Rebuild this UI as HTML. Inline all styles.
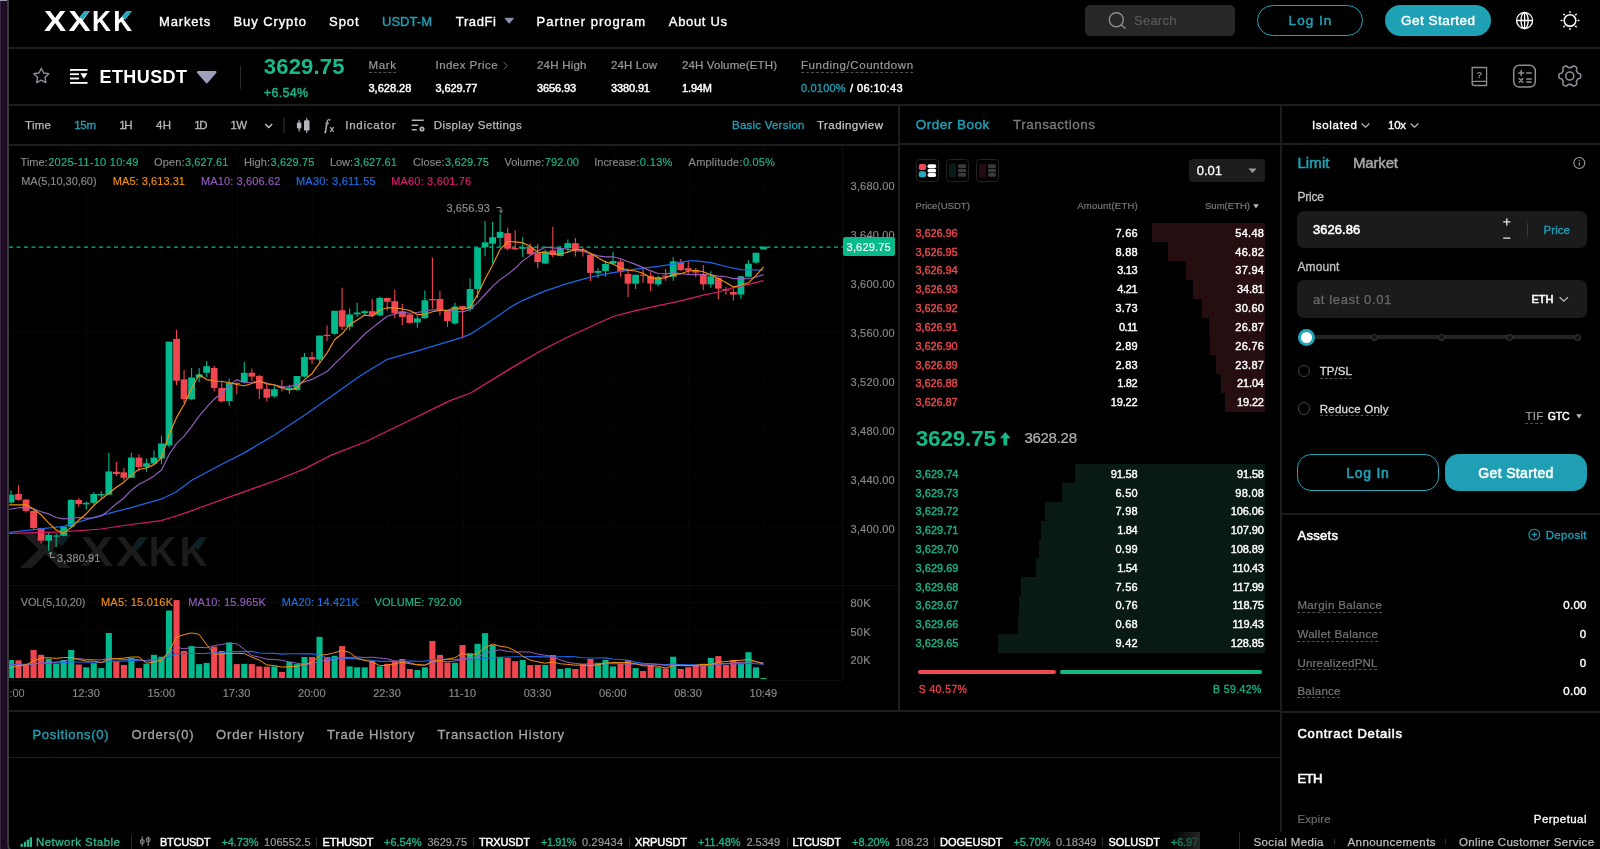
<!DOCTYPE html><html lang="en"><head><meta charset="utf-8"><title>ETHUSDT | XXKK</title><style>
*{margin:0;padding:0}
html,body{width:1600px;height:849px;overflow:hidden;background:#000}
body{position:relative;font-family:"Liberation Sans",sans-serif}
#app{position:absolute;left:0;top:0;width:1600px;height:849px;will-change:transform}
.t{position:absolute;white-space:pre;font-family:"Liberation Sans",sans-serif}
.t.b{font-weight:bold}
.ab,.ln{position:absolute}
.ab{display:block}
.strip{position:absolute;left:0;top:0;width:12px;height:849px;background:linear-gradient(90deg,#38243e 0,#38243e 1px,#1f0b25 1.5px,#1c0a21 12px)}
.strip:before{content:'';position:absolute;left:0;top:0;width:7px;height:1px;background:#9c9db3}
.edge{position:absolute;left:7.200px;top:-10px;width:60px;height:865px;border-left:2px solid #393939;border-bottom:2px solid #393939;border-bottom-left-radius:11px;background:#000;box-sizing:border-box}
.dash{position:absolute;height:0;border-top:1px dashed #505050}
.logo{position:absolute;font:bold 28.6px/34px "Liberation Sans",sans-serif;color:#fff;transform-origin:0 50%}
</style></head><body><div id="app"><div class="strip"></div><div class="edge"></div>
<div class="ln" style="left:9px;top:47px;width:1591px;height:2px;background:#1d1d1d"></div>
<div class="ln" style="left:9px;top:104px;width:1591px;height:2px;background:#1d1d1d"></div>
<div class="ln" style="left:9px;top:144px;width:889px;height:2px;background:#1d1d1d"></div>
<div class="ln" style="left:900px;top:143px;width:380px;height:2px;background:#1d1d1d"></div>
<div class="ln" style="left:1282px;top:143px;width:318px;height:2px;background:#1d1d1d"></div>
<div class="ln" style="left:898px;top:105px;width:2px;height:606px;background:#1d1d1d"></div>
<div class="ln" style="left:1280px;top:105px;width:2px;height:727px;background:#1d1d1d"></div>
<div class="ln" style="left:9px;top:710px;width:1271px;height:2px;background:#1d1d1d"></div>
<div class="ln" style="left:9px;top:757px;width:1271px;height:1px;background:#1d1d1d"></div>
<div class="ln" style="left:1282px;top:513px;width:318px;height:2px;background:#1d1d1d"></div>
<div class="ln" style="left:1282px;top:711px;width:318px;height:2px;background:#1d1d1d"></div>
<div class="ln" style="left:1239px;top:832px;width:1px;height:17px;background:#2a2a2a"></div>
<span class="logo" id="logoX" style="left:43.9px;top:4.2px;letter-spacing:1.9px;transform:scaleX(1.165)">XX</span><span class="logo" id="logoK" style="left:92.400px;top:4.2px;letter-spacing:2.5px;transform:scaleX(.915)">KK</span>
<svg class="ab" style="left:0;top:0" width="200" height="48"><polygon points="79.4,16.9 84.4,11 89.5,11 82.8,19.8" fill="#2aa7bb"/><polygon points="121.9,16.9 126.3,11 132.2,11 125.4,19.8" fill="#2aa7bb"/></svg>
<span class="t" id="t0" style="left:159.0px;top:15.0px;font-size:13px;line-height:13px;color:#fff;letter-spacing:0.83px;-webkit-text-stroke:0.35px #fff;">Markets</span>
<span class="t" id="t1" style="left:233.5px;top:15.0px;font-size:13px;line-height:13px;color:#fff;letter-spacing:0.91px;-webkit-text-stroke:0.35px #fff;">Buy Crypto</span>
<span class="t" id="t2" style="left:329.0px;top:15.0px;font-size:13px;line-height:13px;color:#fff;letter-spacing:0.98px;-webkit-text-stroke:0.35px #fff;">Spot</span>
<span class="t" id="t3" style="left:382.0px;top:15.0px;font-size:13px;line-height:13px;color:#1fa2b6;letter-spacing:0.03px;-webkit-text-stroke:0.35px #1fa2b6;">USDT-M</span>
<span class="t" id="t4" style="left:455.8px;top:15.0px;font-size:13px;line-height:13px;color:#fff;letter-spacing:0.62px;-webkit-text-stroke:0.35px #fff;">TradFi</span>
<svg class="ab" style="left:504px;top:17px" width="11" height="8"><path d="M1 1.3h8.4L5.2 6.3z" fill="#8f94b3" stroke="#8f94b3" stroke-width="1" stroke-linejoin="round"/></svg>
<span class="t" id="t5" style="left:536.5px;top:15.0px;font-size:13px;line-height:13px;color:#fff;letter-spacing:0.99px;-webkit-text-stroke:0.35px #fff;">Partner program</span>
<span class="t" id="t6" style="left:668.8px;top:15.0px;font-size:13px;line-height:13px;color:#fff;letter-spacing:0.67px;-webkit-text-stroke:0.35px #fff;">About Us</span>
<div class="ab" style="left:1084.5px;top:5px;width:150px;height:31px;background:#272727;border-radius:5px"></div>
<svg class="ab" style="left:1106px;top:10px" width="22" height="22" fill="none" stroke="#8b8b93" stroke-width="1.4"><circle cx="10.3" cy="9.8" r="7"/><path d="M15.4 14.9l3.6 3.4" stroke-linecap="round"/></svg>
<span class="t" id="t7" style="left:1134.0px;top:14.0px;font-size:13px;line-height:13px;color:#5a5a5a;letter-spacing:0.24px;-webkit-text-stroke:0.2px #5a5a5a;">Search</span>
<div class="ab" style="left:1257px;top:5px;width:106px;height:31px;border:1.5px solid #1fa2b6;border-radius:16px;box-sizing:border-box"></div>
<span class="t" id="t8" style="left:1288.6px;top:14.0px;font-size:13.5px;line-height:13.5px;color:#1fa2b6;letter-spacing:1.03px;-webkit-text-stroke:0.45px #1fa2b6;">Log In</span>
<div class="ab" style="left:1385px;top:5px;width:106px;height:31px;background:#1ea1b5;border-radius:16px"></div>
<span class="t" id="t9" style="left:1401.0px;top:14.0px;font-size:13.5px;line-height:13.5px;color:#fff;letter-spacing:0.49px;-webkit-text-stroke:0.45px #fff;">Get Started</span>
<svg class="ab" style="left:1514px;top:10px" width="22" height="22" fill="none" stroke="#fff" stroke-width="1.3"><circle cx="10.6" cy="10.5" r="8"/><ellipse cx="10.6" cy="10.5" rx="3.6" ry="8"/><path d="M10.6 2.5v16M2.600 10.500h16"/></svg>
<svg class="ab" style="left:1558px;top:8px" width="24" height="24" fill="none" stroke="#fff" stroke-width="1.5" stroke-linecap="round"><circle cx="12" cy="12.5" r="5.8"/><path d="M12 3.700v.7M12 20.600v.7M3.200 12.500h.7M20.100 12.500h.7M5.800 6.300l.5.5M17.700 18.200l.5.5M5.800 18.700l.5-.5M17.700 6.800l.5-.5"/></svg>
<svg class="ab" style="left:31px;top:65.300px" width="21" height="21" fill="none" stroke="#8b8e9b" stroke-width="1.400" stroke-linejoin="round"><path d="M10.3 3.2l2.3 4.8 5.2.7-3.8 3.7.9 5.2-4.6-2.5-4.6 2.5.9-5.2L2.8 8.700l5.2-.7z"/></svg>
<svg class="ab" style="left:69px;top:67px" width="20" height="20" fill="#fff"><rect x="1" y="2" width="17.5" height="1.8"/><rect x="1" y="6.3" width="9" height="1.8"/><rect x="1" y="10.6" width="9" height="1.8"/><rect x="1" y="15" width="17.5" height="1.8"/><path d="M11.3 6.3h7.2l-3.6 5.5z"/></svg>
<span class="t b" id="t10" style="left:99.5px;top:68.0px;font-size:18px;line-height:18px;color:#fff;letter-spacing:0.42px;">ETHUSDT</span>
<svg class="ab" style="left:194px;top:68px" width="26" height="18"><path d="M4.2 4.200h17l-8.5 9.800z" fill="#9da1bb" stroke="#9da1bb" stroke-width="2.6" stroke-linejoin="round"/></svg>
<div class="ln" style="left:240px;top:66px;width:1px;height:23px;background:#2a2a2a"></div>
<span class="t b" id="t11" style="left:263.8px;top:56.0px;font-size:22px;line-height:22px;color:#19b98b;letter-spacing:0.20px;">3629.75</span>
<span class="t" id="t12" style="left:263.8px;top:87.0px;font-size:12.5px;line-height:12.5px;color:#19b98b;letter-spacing:0.29px;-webkit-text-stroke:0.4px #19b98b;">+6.54%</span>
<span class="t" id="t13" style="left:368.5px;top:60.0px;font-size:11.5px;line-height:11.5px;color:#9a9a9a;letter-spacing:0.65px;-webkit-text-stroke:0.2px #9a9a9a;">Mark</span>
<div class="dash" style="left:368.5px;top:72px;width:27.5px"></div>
<span class="t" id="t14" style="left:368.5px;top:83.0px;font-size:11px;line-height:11px;color:#fff;letter-spacing:-0.00px;-webkit-text-stroke:0.45px #fff;">3,628.28</span>
<span class="t" id="t15" style="left:435.5px;top:60.0px;font-size:11.5px;line-height:11.5px;color:#9a9a9a;letter-spacing:0.45px;-webkit-text-stroke:0.2px #9a9a9a;">Index Price</span>
<svg class="ab" style="left:501px;top:60px" width="10" height="12" fill="none" stroke="#707070" stroke-width="1"><path d="M2.800 2.300l3.500 3.500-3.500 3.500"/></svg>
<span class="t" id="t16" style="left:435.5px;top:83.0px;font-size:11px;line-height:11px;color:#fff;letter-spacing:-0.12px;-webkit-text-stroke:0.45px #fff;">3,629.77</span>
<span class="t" id="t17" style="left:537.0px;top:60.0px;font-size:11.5px;line-height:11.5px;color:#9a9a9a;letter-spacing:0.22px;-webkit-text-stroke:0.2px #9a9a9a;">24H High</span>
<span class="t" id="t18" style="left:537.0px;top:83.0px;font-size:11px;line-height:11px;color:#fff;letter-spacing:-0.09px;-webkit-text-stroke:0.45px #fff;">3656.93</span>
<span class="t" id="t19" style="left:611.0px;top:60.0px;font-size:11.5px;line-height:11.5px;color:#9a9a9a;letter-spacing:0.10px;-webkit-text-stroke:0.2px #9a9a9a;">24H Low</span>
<span class="t" id="t20" style="left:611.0px;top:83.0px;font-size:11px;line-height:11px;color:#fff;letter-spacing:-0.13px;-webkit-text-stroke:0.45px #fff;">3380.91</span>
<span class="t" id="t21" style="left:682.0px;top:60.0px;font-size:11.5px;line-height:11.5px;color:#9a9a9a;letter-spacing:0.12px;-webkit-text-stroke:0.2px #9a9a9a;">24H Volume(ETH)</span>
<span class="t" id="t22" style="left:682.0px;top:83.0px;font-size:11px;line-height:11px;color:#fff;letter-spacing:-0.14px;-webkit-text-stroke:0.45px #fff;">1.94M</span>
<span class="t" id="t23" style="left:801.0px;top:60.0px;font-size:11.5px;line-height:11.5px;color:#9a9a9a;letter-spacing:0.57px;-webkit-text-stroke:0.2px #9a9a9a;">Funding/Countdown</span>
<div class="dash" style="left:801px;top:72px;width:112px"></div>
<span class="t" id="t24" style="left:801.0px;top:83.0px;font-size:11px;line-height:11px;color:#1fa2b6;letter-spacing:0.18px;-webkit-text-stroke:0.3px #1fa2b6;">0.0100%</span>
<span class="t" id="t25" style="left:850.0px;top:83.0px;font-size:11px;line-height:11px;color:#fff;letter-spacing:0.40px;-webkit-text-stroke:0.45px #fff;">/ 06:10:43</span>
<svg class="ab" style="left:1469px;top:64px" width="22" height="24" fill="none" stroke="#8d8d96" stroke-width="1.3"><path d="M3.2 3.5h14.4v18H5.2a2 2 0 0 1-2-2z"/><path d="M3.2 19.2a2 2 0 0 1 2-1.900h12.400"/><text x="10.400" y="13.800" font-size="9.500" fill="#8d8d96" stroke="none" text-anchor="middle" font-family="Liberation Sans, sans-serif" font-weight="bold">?</text></svg>
<svg class="ab" style="left:1511px;top:63px" width="27" height="27" fill="none" stroke="#8d8d96" stroke-width="1.5" stroke-linecap="round"><rect x="2.700" y="2.300" width="21.6" height="21.800" rx="5.500"/><path d="M7.700 9.900h5M10.200 7.400v5M15.800 9.900h4.400M8.200 15.500l3.700 3.700M11.900 15.500l-3.700 3.700M15.800 15.900h4.400M15.800 18.900h4.400"/></svg>
<svg class="ab" style="left:1556px;top:62px" width="28" height="28" fill="none" stroke="#8d8d96" stroke-width="1.600" stroke-linejoin="round"><path d="M24.70 14.00L24.69 14.48L24.64 14.95L24.55 15.41L24.35 15.86L23.91 16.24L23.12 16.50L22.33 16.69L21.87 16.94L21.62 17.24L21.43 17.56L21.25 17.88L21.07 18.20L20.89 18.52L20.70 18.83L20.51 19.15L20.38 19.52L20.40 20.05L20.62 20.82L20.79 21.63L20.68 22.20L20.40 22.60L20.04 22.91L19.65 23.19L19.25 23.44L18.83 23.67L18.40 23.86L17.95 24.01L17.46 24.06L16.91 23.87L16.30 23.32L15.74 22.74L15.29 22.46L14.90 22.39L14.53 22.39L14.17 22.40L13.80 22.40L13.43 22.40L13.07 22.39L12.70 22.39L12.31 22.46L11.86 22.74L11.30 23.32L10.69 23.87L10.14 24.06L9.65 24.01L9.20 23.86L8.77 23.67L8.35 23.44L7.95 23.19L7.56 22.91L7.20 22.60L6.92 22.20L6.81 21.63L6.98 20.82L7.20 20.05L7.22 19.52L7.09 19.15L6.90 18.83L6.71 18.52L6.53 18.20L6.35 17.88L6.17 17.56L5.98 17.24L5.73 16.94L5.27 16.69L4.48 16.50L3.69 16.24L3.25 15.86L3.05 15.41L2.96 14.95L2.91 14.48L2.90 14.00L2.91 13.52L2.96 13.05L3.05 12.59L3.25 12.14L3.69 11.76L4.48 11.50L5.27 11.31L5.73 11.06L5.98 10.76L6.17 10.44L6.35 10.12L6.53 9.80L6.71 9.48L6.90 9.17L7.09 8.85L7.22 8.48L7.20 7.95L6.98 7.18L6.81 6.37L6.92 5.80L7.20 5.40L7.56 5.09L7.95 4.81L8.35 4.56L8.77 4.33L9.20 4.14L9.65 3.99L10.14 3.94L10.69 4.13L11.30 4.68L11.86 5.26L12.31 5.54L12.70 5.61L13.07 5.61L13.43 5.60L13.80 5.60L14.17 5.60L14.53 5.61L14.90 5.61L15.29 5.54L15.74 5.26L16.30 4.68L16.91 4.13L17.46 3.94L17.95 3.99L18.40 4.14L18.83 4.33L19.25 4.56L19.65 4.81L20.04 5.09L20.40 5.40L20.68 5.80L20.79 6.37L20.62 7.18L20.40 7.95L20.38 8.48L20.51 8.85L20.70 9.17L20.89 9.48L21.07 9.80L21.25 10.12L21.43 10.44L21.62 10.76L21.87 11.06L22.33 11.31L23.12 11.50L23.91 11.76L24.35 12.14L24.55 12.59L24.64 13.05L24.69 13.52Z"/><circle cx="13.8" cy="14" r="4"/></svg>
<span class="t" id="t26" style="left:25.0px;top:120.0px;font-size:11.5px;line-height:11.5px;color:#b9b9b9;letter-spacing:0.29px;-webkit-text-stroke:0.25px #b9b9b9;">Time</span>
<span class="t" id="t27" style="left:74.3px;top:120.0px;font-size:11.5px;line-height:11.5px;color:#1fa2b6;letter-spacing:-0.34px;-webkit-text-stroke:0.35px #1fa2b6;">15m</span>
<span class="t" id="t28" style="left:119.3px;top:120.0px;font-size:11.5px;line-height:11.5px;color:#b9b9b9;letter-spacing:-1.50px;-webkit-text-stroke:0.3px #b9b9b9;">1H</span>
<span class="t" id="t29" style="left:156.0px;top:120.0px;font-size:11.5px;line-height:11.5px;color:#b9b9b9;letter-spacing:0.30px;-webkit-text-stroke:0.3px #b9b9b9;">4H</span>
<span class="t" id="t30" style="left:194.3px;top:120.0px;font-size:11.5px;line-height:11.5px;color:#b9b9b9;letter-spacing:-1.50px;-webkit-text-stroke:0.3px #b9b9b9;">1D</span>
<span class="t" id="t31" style="left:230.5px;top:120.0px;font-size:11.5px;line-height:11.5px;color:#b9b9b9;letter-spacing:-0.75px;-webkit-text-stroke:0.3px #b9b9b9;">1W</span>
<svg class="ab" style="left:263px;top:121px" width="12" height="10" fill="none" stroke="#c8c8c8" stroke-width="1.3"><path d="M2.200 3l3.500 3.500L9.200 3"/></svg>
<div class="ln" style="left:282.8px;top:118px;width:2px;height:15px;background:#1b1b1b"></div>
<svg class="ab" style="left:296px;top:117px" width="16" height="17" fill="#b5b5bd"><rect x="2.600" y="2.800" width="1.100" height="11.800"/><rect x=".900" y="5.500" width="4.500" height="6" rx="1"/><rect x="10.200" y="1" width="1.100" height="15"/><rect x="8" y="3.200" width="5.500" height="10.400" rx="1.200"/></svg>
<svg class="ab" style="left:322px;top:116px" width="16" height="20"><text x="2.500" y="14" font-family="Liberation Serif, serif" font-style="italic" font-size="14.500" fill="#b5b5bd" stroke="#b5b5bd" stroke-width=".300">f</text><text x="7.500" y="16" font-family="Liberation Sans, sans-serif" font-weight="bold" font-size="8.500" fill="#b5b5bd">x</text></svg>
<span class="t" id="t32" style="left:345.2px;top:120.0px;font-size:11.5px;line-height:11.5px;color:#b9b9b9;letter-spacing:0.77px;-webkit-text-stroke:0.25px #b9b9b9;">Indicator</span>
<svg class="ab" style="left:410px;top:117px" width="17" height="17" fill="none" stroke="#b0b0b8" stroke-width="1.400"><path d="M1.700 3.200h12M1.700 8.200h6.500M1.700 12.800h5"/><circle cx="12" cy="12" r="1.700" stroke-width="1.700"/></svg>
<span class="t" id="t33" style="left:433.8px;top:120.0px;font-size:11.5px;line-height:11.5px;color:#b9b9b9;letter-spacing:0.37px;-webkit-text-stroke:0.25px #b9b9b9;">Display Settings</span>
<span class="t" id="t34" style="left:732.0px;top:120.0px;font-size:11.5px;line-height:11.5px;color:#1fa2b6;letter-spacing:0.23px;-webkit-text-stroke:0.3px #1fa2b6;">Basic Version</span>
<span class="t" id="t35" style="left:817.0px;top:120.0px;font-size:11.5px;line-height:11.5px;color:#c5c5c5;letter-spacing:0.44px;-webkit-text-stroke:0.25px #c5c5c5;">Tradingview</span>
<svg class="ab" style="left:0;top:0" width="900" height="712" viewBox="0 0 900 712"><defs><clipPath id="cc"><rect x="9.200" y="146" width="889" height="565"/></clipPath></defs><g clip-path="url(#cc)"><path d="M9 185.4H842.500" stroke="#070707" stroke-width="1"/><path d="M9 234.3H842.500" stroke="#070707" stroke-width="1"/><path d="M9 283.2H842.500" stroke="#070707" stroke-width="1"/><path d="M9 332.1H842.500" stroke="#070707" stroke-width="1"/><path d="M9 381.0H842.500" stroke="#070707" stroke-width="1"/><path d="M9 429.8H842.500" stroke="#070707" stroke-width="1"/><path d="M9 478.7H842.500" stroke="#070707" stroke-width="1"/><path d="M9 527.6H842.500" stroke="#070707" stroke-width="1"/><path d="M9 602.5H842.500" stroke="#070707" stroke-width="1"/><path d="M9 630.8H842.500" stroke="#070707" stroke-width="1"/><path d="M9 659.3H842.500" stroke="#070707" stroke-width="1"/><path d="M86.9 146V680.500" stroke="#070707" stroke-width="1"/><path d="M162.2 146V680.500" stroke="#070707" stroke-width="1"/><path d="M237.4 146V680.500" stroke="#070707" stroke-width="1"/><path d="M312.7 146V680.500" stroke="#070707" stroke-width="1"/><path d="M387.9 146V680.500" stroke="#070707" stroke-width="1"/><path d="M463.2 146V680.500" stroke="#070707" stroke-width="1"/><path d="M538.4 146V680.500" stroke="#070707" stroke-width="1"/><path d="M613.7 146V680.500" stroke="#070707" stroke-width="1"/><path d="M688.9 146V680.500" stroke="#070707" stroke-width="1"/><path d="M764.2 146V680.500" stroke="#070707" stroke-width="1"/><path d="M9 585.500H898M9 680.500H842.500M842.500 146V680.500" stroke="#0c0c0c" stroke-width="1" fill="none"/><g font-family="Liberation Sans, sans-serif" font-weight="bold" fill="#1c1c1c"><text transform="translate(19.300,568.300) scale(1.590,1)" font-size="49.400">X</text><text transform="translate(80.800,565.900) scale(1.165,1)" font-size="41.800" letter-spacing="1.900">XX</text><text transform="translate(148.700,565.900) scale(.915,1)" font-size="41.800" letter-spacing="3.650">KK</text></g><polygon points="133,545.700 140.300,537.100 147.600,537.100 138,550" fill="#0d2124"/><polygon points="193.500,545.700 200.200,537.100 206.800,537.100 198.500,550" fill="#0d2124"/><polygon points="56.500,541.500 64,534.400 71.500,534.400 61.500,546.500" fill="#0d2124"/><path d="M9 247.200H843" stroke="#00b98c" stroke-width="1.300" stroke-dasharray="4 3.500" /><path d="M11.00 490.2V503.8" stroke="#00b98c" stroke-width="1.100"/><rect x="7.60" y="494.7" width="6.8" height="7.8" fill="#00b98c"/><path d="M18.52 485.2V500.8" stroke="#f0464f" stroke-width="1.100"/><rect x="15.12" y="494.0" width="6.8" height="5.9" fill="#f0464f"/><path d="M26.05 499.0V512.4" stroke="#f0464f" stroke-width="1.100"/><rect x="22.65" y="499.6" width="6.8" height="11.3" fill="#f0464f"/><path d="M33.58 509.8V530.0" stroke="#f0464f" stroke-width="1.100"/><rect x="30.18" y="510.9" width="6.8" height="17.1" fill="#f0464f"/><path d="M41.10 527.7V543.3" stroke="#f0464f" stroke-width="1.100"/><rect x="37.70" y="528.0" width="6.8" height="12.7" fill="#f0464f"/><path d="M48.62 532.9V550.8" stroke="#00b98c" stroke-width="1.100"/><rect x="45.23" y="534.8" width="6.8" height="5.9" fill="#00b98c"/><path d="M56.15 533.5V546.9" stroke="#00b98c" stroke-width="1.100"/><rect x="52.75" y="535.5" width="6.8" height="1.1" fill="#00b98c"/><path d="M63.68 526.4V536.1" stroke="#00b98c" stroke-width="1.100"/><rect x="60.28" y="526.7" width="6.8" height="9.1" fill="#00b98c"/><path d="M71.20 499.6V527.0" stroke="#00b98c" stroke-width="1.100"/><rect x="67.80" y="499.9" width="6.8" height="26.8" fill="#00b98c"/><path d="M78.73 497.9V506.7" stroke="#f0464f" stroke-width="1.100"/><rect x="75.33" y="499.9" width="6.8" height="4.2" fill="#f0464f"/><path d="M86.25 501.6V509.8" stroke="#00b98c" stroke-width="1.100"/><rect x="82.85" y="502.8" width="6.8" height="1.6" fill="#00b98c"/><path d="M93.78 492.1V504.4" stroke="#00b98c" stroke-width="1.100"/><rect x="90.38" y="494.0" width="6.8" height="8.8" fill="#00b98c"/><path d="M101.30 491.2V498.2" stroke="#00b98c" stroke-width="1.100"/><rect x="97.90" y="494.0" width="6.8" height="1.3" fill="#00b98c"/><path d="M108.83 452.8V494.7" stroke="#00b98c" stroke-width="1.100"/><rect x="105.42" y="471.4" width="6.8" height="23.3" fill="#00b98c"/><path d="M116.35 461.9V475.9" stroke="#f0464f" stroke-width="1.100"/><rect x="112.95" y="471.8" width="6.8" height="2.2" fill="#f0464f"/><path d="M123.88 468.1V480.8" stroke="#f0464f" stroke-width="1.100"/><rect x="120.47" y="472.3" width="6.8" height="5.5" fill="#f0464f"/><path d="M131.40 452.8V477.8" stroke="#00b98c" stroke-width="1.100"/><rect x="128.00" y="457.5" width="6.8" height="20.3" fill="#00b98c"/><path d="M138.93 454.2V470.8" stroke="#f0464f" stroke-width="1.100"/><rect x="135.53" y="457.6" width="6.8" height="9.4" fill="#f0464f"/><path d="M146.45 458.5V471.7" stroke="#00b98c" stroke-width="1.100"/><rect x="143.05" y="463.3" width="6.8" height="3.4" fill="#00b98c"/><path d="M153.97 450.6V464.8" stroke="#00b98c" stroke-width="1.100"/><rect x="150.57" y="457.6" width="6.8" height="6.0" fill="#00b98c"/><path d="M161.50 435.4V464.2" stroke="#00b98c" stroke-width="1.100"/><rect x="158.10" y="443.5" width="6.8" height="15.0" fill="#00b98c"/><path d="M169.03 341.7V447.2" stroke="#00b98c" stroke-width="1.100"/><rect x="165.62" y="341.7" width="6.8" height="103.7" fill="#00b98c"/><path d="M176.55 329.8V385.0" stroke="#f0464f" stroke-width="1.100"/><rect x="173.15" y="338.9" width="6.8" height="41.8" fill="#f0464f"/><path d="M184.08 370.0V403.0" stroke="#f0464f" stroke-width="1.100"/><rect x="180.68" y="379.4" width="6.8" height="19.8" fill="#f0464f"/><path d="M191.60 368.0V400.0" stroke="#00b98c" stroke-width="1.100"/><rect x="188.20" y="377.5" width="6.8" height="21.7" fill="#00b98c"/><path d="M199.12 368.0V382.2" stroke="#00b98c" stroke-width="1.100"/><rect x="195.72" y="374.3" width="6.8" height="3.2" fill="#00b98c"/><path d="M206.65 361.1V377.5" stroke="#00b98c" stroke-width="1.100"/><rect x="203.25" y="366.2" width="6.8" height="6.6" fill="#00b98c"/><path d="M214.18 365.8V391.6" stroke="#f0464f" stroke-width="1.100"/><rect x="210.78" y="368.0" width="6.8" height="19.9" fill="#f0464f"/><path d="M221.70 382.2V402.6" stroke="#f0464f" stroke-width="1.100"/><rect x="218.30" y="387.9" width="6.8" height="13.5" fill="#f0464f"/><path d="M229.23 378.4V405.8" stroke="#00b98c" stroke-width="1.100"/><rect x="225.83" y="382.8" width="6.8" height="18.2" fill="#00b98c"/><path d="M236.75 382.2V393.9" stroke="#f0464f" stroke-width="1.100"/><rect x="233.35" y="383.1" width="6.8" height="1.1" fill="#f0464f"/><path d="M244.28 362.0V382.6" stroke="#00b98c" stroke-width="1.100"/><rect x="240.88" y="372.8" width="6.8" height="9.4" fill="#00b98c"/><path d="M251.80 368.6V380.7" stroke="#f0464f" stroke-width="1.100"/><rect x="248.40" y="372.8" width="6.8" height="3.8" fill="#f0464f"/><path d="M259.33 375.0V398.8" stroke="#f0464f" stroke-width="1.100"/><rect x="255.93" y="376.0" width="6.8" height="12.8" fill="#f0464f"/><path d="M266.85 382.2V401.4" stroke="#f0464f" stroke-width="1.100"/><rect x="263.45" y="388.8" width="6.8" height="8.9" fill="#f0464f"/><path d="M274.38 386.0V397.7" stroke="#00b98c" stroke-width="1.100"/><rect x="270.98" y="389.2" width="6.8" height="7.1" fill="#00b98c"/><path d="M281.90 380.0V391.6" stroke="#f0464f" stroke-width="1.100"/><rect x="278.50" y="386.9" width="6.8" height="1.1" fill="#f0464f"/><path d="M289.43 385.0V393.9" stroke="#00b98c" stroke-width="1.100"/><rect x="286.03" y="387.9" width="6.8" height="1.5" fill="#00b98c"/><path d="M296.95 376.0V390.7" stroke="#00b98c" stroke-width="1.100"/><rect x="293.55" y="376.0" width="6.8" height="14.1" fill="#00b98c"/><path d="M304.48 353.0V377.5" stroke="#00b98c" stroke-width="1.100"/><rect x="301.08" y="357.1" width="6.8" height="19.5" fill="#00b98c"/><path d="M312.00 352.0V364.3" stroke="#f0464f" stroke-width="1.100"/><rect x="308.60" y="357.1" width="6.8" height="2.5" fill="#f0464f"/><path d="M319.53 335.6V362.4" stroke="#00b98c" stroke-width="1.100"/><rect x="316.13" y="335.6" width="6.8" height="24.0" fill="#00b98c"/><path d="M327.05 325.4V341.0" stroke="#f0464f" stroke-width="1.100"/><rect x="323.65" y="334.8" width="6.8" height="1.3" fill="#f0464f"/><path d="M334.57 310.8V334.8" stroke="#00b98c" stroke-width="1.100"/><rect x="331.18" y="310.8" width="6.8" height="23.0" fill="#00b98c"/><path d="M342.10 287.7V330.0" stroke="#f0464f" stroke-width="1.100"/><rect x="338.70" y="310.3" width="6.8" height="16.4" fill="#f0464f"/><path d="M349.62 308.4V330.6" stroke="#00b98c" stroke-width="1.100"/><rect x="346.23" y="314.4" width="6.8" height="12.3" fill="#00b98c"/><path d="M357.15 302.7V316.9" stroke="#00b98c" stroke-width="1.100"/><rect x="353.75" y="312.5" width="6.8" height="1.9" fill="#00b98c"/><path d="M364.68 309.9V315.0" stroke="#00b98c" stroke-width="1.100"/><rect x="361.28" y="311.2" width="6.8" height="1.9" fill="#00b98c"/><path d="M372.20 299.0V316.9" stroke="#f0464f" stroke-width="1.100"/><rect x="368.80" y="311.2" width="6.8" height="4.2" fill="#f0464f"/><path d="M379.73 296.5V315.9" stroke="#00b98c" stroke-width="1.100"/><rect x="376.33" y="298.0" width="6.8" height="17.4" fill="#00b98c"/><path d="M387.25 298.0V310.8" stroke="#f0464f" stroke-width="1.100"/><rect x="383.85" y="298.0" width="6.8" height="3.8" fill="#f0464f"/><path d="M394.78 289.5V318.2" stroke="#f0464f" stroke-width="1.100"/><rect x="391.38" y="301.2" width="6.8" height="11.9" fill="#f0464f"/><path d="M402.30 303.7V325.0" stroke="#f0464f" stroke-width="1.100"/><rect x="398.90" y="311.2" width="6.8" height="5.7" fill="#f0464f"/><path d="M409.83 314.0V323.8" stroke="#f0464f" stroke-width="1.100"/><rect x="406.43" y="314.4" width="6.8" height="8.5" fill="#f0464f"/><path d="M417.35 315.4V327.8" stroke="#00b98c" stroke-width="1.100"/><rect x="413.95" y="318.4" width="6.8" height="4.1" fill="#00b98c"/><path d="M424.88 290.5V318.8" stroke="#00b98c" stroke-width="1.100"/><rect x="421.48" y="300.3" width="6.8" height="17.9" fill="#00b98c"/><path d="M432.40 257.5V308.4" stroke="#f0464f" stroke-width="1.100"/><rect x="429.00" y="299.0" width="6.8" height="1.3" fill="#f0464f"/><path d="M439.93 290.9V315.4" stroke="#f0464f" stroke-width="1.100"/><rect x="436.53" y="299.0" width="6.8" height="11.8" fill="#f0464f"/><path d="M447.45 310.3V326.7" stroke="#f0464f" stroke-width="1.100"/><rect x="444.05" y="310.8" width="6.8" height="10.2" fill="#f0464f"/><path d="M454.98 302.7V324.4" stroke="#00b98c" stroke-width="1.100"/><rect x="451.58" y="306.5" width="6.8" height="17.0" fill="#00b98c"/><path d="M462.50 306.1V338.5" stroke="#f0464f" stroke-width="1.100"/><rect x="459.10" y="306.1" width="6.8" height="2.9" fill="#f0464f"/><path d="M470.03 278.2V311.6" stroke="#00b98c" stroke-width="1.100"/><rect x="466.63" y="289.0" width="6.8" height="20.0" fill="#00b98c"/><path d="M477.55 247.5V298.0" stroke="#00b98c" stroke-width="1.100"/><rect x="474.15" y="247.5" width="6.8" height="41.5" fill="#00b98c"/><path d="M485.08 221.1V256.3" stroke="#00b98c" stroke-width="1.100"/><rect x="481.68" y="242.4" width="6.8" height="4.7" fill="#00b98c"/><path d="M492.60 222.0V263.6" stroke="#00b98c" stroke-width="1.100"/><rect x="489.20" y="237.2" width="6.8" height="6.5" fill="#00b98c"/><path d="M500.12 214.0V247.3" stroke="#00b98c" stroke-width="1.100"/><rect x="496.73" y="231.9" width="6.8" height="6.0" fill="#00b98c"/><path d="M507.65 227.8V250.6" stroke="#f0464f" stroke-width="1.100"/><rect x="504.25" y="233.2" width="6.8" height="15.5" fill="#f0464f"/><path d="M515.17 230.2V250.0" stroke="#f0464f" stroke-width="1.100"/><rect x="511.77" y="248.1" width="6.8" height="1.3" fill="#f0464f"/><path d="M522.70 237.1V256.9" stroke="#00b98c" stroke-width="1.100"/><rect x="519.30" y="247.1" width="6.8" height="1.7" fill="#00b98c"/><path d="M530.23 243.7V255.0" stroke="#f0464f" stroke-width="1.100"/><rect x="526.83" y="247.1" width="6.8" height="7.0" fill="#f0464f"/><path d="M537.75 243.7V268.2" stroke="#f0464f" stroke-width="1.100"/><rect x="534.35" y="253.1" width="6.8" height="8.9" fill="#f0464f"/><path d="M545.27 249.4V263.9" stroke="#00b98c" stroke-width="1.100"/><rect x="541.88" y="251.3" width="6.8" height="12.2" fill="#00b98c"/><path d="M552.80 226.8V256.9" stroke="#f0464f" stroke-width="1.100"/><rect x="549.40" y="250.3" width="6.8" height="4.7" fill="#f0464f"/><path d="M560.33 246.0V256.4" stroke="#00b98c" stroke-width="1.100"/><rect x="556.93" y="248.4" width="6.8" height="7.6" fill="#00b98c"/><path d="M567.85 239.6V253.1" stroke="#00b98c" stroke-width="1.100"/><rect x="564.45" y="243.2" width="6.8" height="4.9" fill="#00b98c"/><path d="M575.38 238.1V256.4" stroke="#f0464f" stroke-width="1.100"/><rect x="571.98" y="243.2" width="6.8" height="7.1" fill="#f0464f"/><path d="M582.90 247.5V256.4" stroke="#f0464f" stroke-width="1.100"/><rect x="579.50" y="250.3" width="6.8" height="1.1" fill="#f0464f"/><path d="M590.43 254.1V280.9" stroke="#f0464f" stroke-width="1.100"/><rect x="587.03" y="254.7" width="6.8" height="18.2" fill="#f0464f"/><path d="M597.95 268.2V278.0" stroke="#00b98c" stroke-width="1.100"/><rect x="594.55" y="271.0" width="6.8" height="1.9" fill="#00b98c"/><path d="M605.48 260.7V276.7" stroke="#00b98c" stroke-width="1.100"/><rect x="602.08" y="263.9" width="6.8" height="7.1" fill="#00b98c"/><path d="M613.00 251.8V264.5" stroke="#00b98c" stroke-width="1.100"/><rect x="609.60" y="261.0" width="6.8" height="2.5" fill="#00b98c"/><path d="M620.52 259.4V276.7" stroke="#f0464f" stroke-width="1.100"/><rect x="617.12" y="261.6" width="6.8" height="9.8" fill="#f0464f"/><path d="M628.05 268.2V296.9" stroke="#f0464f" stroke-width="1.100"/><rect x="624.65" y="273.9" width="6.8" height="9.8" fill="#f0464f"/><path d="M635.58 274.8V289.0" stroke="#00b98c" stroke-width="1.100"/><rect x="632.18" y="274.8" width="6.8" height="8.9" fill="#00b98c"/><path d="M643.10 268.5V282.8" stroke="#f0464f" stroke-width="1.100"/><rect x="639.70" y="274.6" width="6.8" height="1.2" fill="#f0464f"/><path d="M650.62 272.3V290.9" stroke="#f0464f" stroke-width="1.100"/><rect x="647.23" y="275.8" width="6.8" height="7.8" fill="#f0464f"/><path d="M658.15 275.4V286.2" stroke="#00b98c" stroke-width="1.100"/><rect x="654.75" y="277.0" width="6.8" height="7.3" fill="#00b98c"/><path d="M665.68 269.0V280.8" stroke="#f0464f" stroke-width="1.100"/><rect x="662.28" y="275.6" width="6.8" height="1.2" fill="#f0464f"/><path d="M673.20 257.0V280.8" stroke="#00b98c" stroke-width="1.100"/><rect x="669.80" y="261.3" width="6.8" height="15.5" fill="#00b98c"/><path d="M680.73 259.0V270.7" stroke="#f0464f" stroke-width="1.100"/><rect x="677.33" y="261.8" width="6.8" height="8.3" fill="#f0464f"/><path d="M688.25 261.3V275.0" stroke="#f0464f" stroke-width="1.100"/><rect x="684.85" y="268.2" width="6.8" height="2.5" fill="#f0464f"/><path d="M695.77 267.9V277.3" stroke="#f0464f" stroke-width="1.100"/><rect x="692.38" y="270.3" width="6.8" height="2.3" fill="#f0464f"/><path d="M703.30 265.0V290.1" stroke="#f0464f" stroke-width="1.100"/><rect x="699.90" y="273.9" width="6.8" height="10.4" fill="#f0464f"/><path d="M710.83 271.3V287.7" stroke="#00b98c" stroke-width="1.100"/><rect x="707.43" y="276.3" width="6.8" height="8.1" fill="#00b98c"/><path d="M718.35 277.8V299.3" stroke="#f0464f" stroke-width="1.100"/><rect x="714.95" y="278.2" width="6.8" height="10.4" fill="#f0464f"/><path d="M725.88 287.1V294.8" stroke="#f0464f" stroke-width="1.100"/><rect x="722.48" y="289.0" width="6.8" height="1.5" fill="#f0464f"/><path d="M733.40 288.6V300.5" stroke="#f0464f" stroke-width="1.100"/><rect x="730.00" y="292.0" width="6.8" height="2.6" fill="#f0464f"/><path d="M740.93 275.4V299.0" stroke="#00b98c" stroke-width="1.100"/><rect x="737.53" y="276.3" width="6.8" height="18.3" fill="#00b98c"/><path d="M748.45 260.3V276.9" stroke="#00b98c" stroke-width="1.100"/><rect x="745.05" y="263.7" width="6.8" height="13.0" fill="#00b98c"/><path d="M755.98 252.8V263.7" stroke="#00b98c" stroke-width="1.100"/><rect x="752.58" y="252.8" width="6.8" height="9.8" fill="#00b98c"/><path d="M763.50 246.7V249.4" stroke="#00b98c" stroke-width="1.100"/><rect x="760.10" y="246.7" width="6.8" height="2.7" fill="#00b98c"/><rect x="7.95" y="660.0" width="6.1" height="18.0" fill="#00b98c"/><rect x="15.47" y="660.3" width="6.1" height="17.7" fill="#f0464f"/><rect x="23.00" y="664.5" width="6.1" height="13.5" fill="#f0464f"/><rect x="30.53" y="650.0" width="6.1" height="28.0" fill="#f0464f"/><rect x="38.05" y="654.8" width="6.1" height="23.2" fill="#f0464f"/><rect x="45.58" y="658.7" width="6.1" height="19.3" fill="#00b98c"/><rect x="53.10" y="663.8" width="6.1" height="14.2" fill="#00b98c"/><rect x="60.63" y="660.0" width="6.1" height="18.0" fill="#00b98c"/><rect x="68.15" y="650.0" width="6.1" height="28.0" fill="#00b98c"/><rect x="75.68" y="664.5" width="6.1" height="13.5" fill="#f0464f"/><rect x="83.20" y="667.3" width="6.1" height="10.7" fill="#00b98c"/><rect x="90.73" y="663.2" width="6.1" height="14.8" fill="#00b98c"/><rect x="98.25" y="668.1" width="6.1" height="9.9" fill="#00b98c"/><rect x="105.78" y="633.0" width="6.1" height="45.0" fill="#00b98c"/><rect x="113.30" y="661.2" width="6.1" height="16.8" fill="#f0464f"/><rect x="120.83" y="664.9" width="6.1" height="13.1" fill="#f0464f"/><rect x="128.35" y="658.0" width="6.1" height="20.0" fill="#00b98c"/><rect x="135.88" y="668.1" width="6.1" height="9.9" fill="#f0464f"/><rect x="143.40" y="663.8" width="6.1" height="14.2" fill="#00b98c"/><rect x="150.92" y="654.8" width="6.1" height="23.2" fill="#00b98c"/><rect x="158.45" y="656.7" width="6.1" height="21.3" fill="#00b98c"/><rect x="165.97" y="610.5" width="6.1" height="67.5" fill="#00b98c"/><rect x="173.50" y="600.1" width="6.1" height="77.9" fill="#f0464f"/><rect x="181.03" y="650.9" width="6.1" height="27.1" fill="#f0464f"/><rect x="188.55" y="646.1" width="6.1" height="31.9" fill="#00b98c"/><rect x="196.07" y="664.1" width="6.1" height="13.9" fill="#00b98c"/><rect x="203.60" y="662.9" width="6.1" height="15.1" fill="#00b98c"/><rect x="211.12" y="646.6" width="6.1" height="31.4" fill="#f0464f"/><rect x="218.65" y="650.9" width="6.1" height="27.1" fill="#f0464f"/><rect x="226.18" y="642.5" width="6.1" height="35.5" fill="#00b98c"/><rect x="233.70" y="664.1" width="6.1" height="13.9" fill="#f0464f"/><rect x="241.22" y="663.8" width="6.1" height="14.2" fill="#00b98c"/><rect x="248.75" y="664.1" width="6.1" height="13.9" fill="#f0464f"/><rect x="256.28" y="666.4" width="6.1" height="11.6" fill="#f0464f"/><rect x="263.80" y="666.7" width="6.1" height="11.3" fill="#f0464f"/><rect x="271.32" y="666.4" width="6.1" height="11.6" fill="#00b98c"/><rect x="278.85" y="671.9" width="6.1" height="6.1" fill="#f0464f"/><rect x="286.38" y="661.9" width="6.1" height="16.1" fill="#00b98c"/><rect x="293.90" y="664.1" width="6.1" height="13.9" fill="#00b98c"/><rect x="301.43" y="657.0" width="6.1" height="21.0" fill="#00b98c"/><rect x="308.95" y="657.0" width="6.1" height="21.0" fill="#f0464f"/><rect x="316.48" y="636.9" width="6.1" height="41.1" fill="#00b98c"/><rect x="324.00" y="657.0" width="6.1" height="21.0" fill="#f0464f"/><rect x="331.52" y="655.8" width="6.1" height="22.2" fill="#00b98c"/><rect x="339.05" y="646.1" width="6.1" height="31.9" fill="#f0464f"/><rect x="346.57" y="666.4" width="6.1" height="11.6" fill="#00b98c"/><rect x="354.10" y="667.3" width="6.1" height="10.7" fill="#00b98c"/><rect x="361.62" y="667.3" width="6.1" height="10.7" fill="#00b98c"/><rect x="369.15" y="661.0" width="6.1" height="17.0" fill="#f0464f"/><rect x="376.68" y="666.4" width="6.1" height="11.6" fill="#00b98c"/><rect x="384.20" y="663.8" width="6.1" height="14.2" fill="#f0464f"/><rect x="391.73" y="660.6" width="6.1" height="17.4" fill="#f0464f"/><rect x="399.25" y="659.0" width="6.1" height="19.0" fill="#f0464f"/><rect x="406.78" y="669.0" width="6.1" height="9.0" fill="#f0464f"/><rect x="414.30" y="670.0" width="6.1" height="8.0" fill="#00b98c"/><rect x="421.82" y="667.3" width="6.1" height="10.7" fill="#00b98c"/><rect x="429.35" y="640.9" width="6.1" height="37.1" fill="#f0464f"/><rect x="436.88" y="655.0" width="6.1" height="23.0" fill="#f0464f"/><rect x="444.40" y="662.5" width="6.1" height="15.5" fill="#f0464f"/><rect x="451.93" y="662.8" width="6.1" height="15.2" fill="#00b98c"/><rect x="459.45" y="645.0" width="6.1" height="33.0" fill="#f0464f"/><rect x="466.98" y="653.1" width="6.1" height="24.9" fill="#00b98c"/><rect x="474.50" y="643.8" width="6.1" height="34.2" fill="#00b98c"/><rect x="482.03" y="633.1" width="6.1" height="44.9" fill="#00b98c"/><rect x="489.55" y="645.0" width="6.1" height="33.0" fill="#00b98c"/><rect x="497.07" y="656.7" width="6.1" height="21.3" fill="#00b98c"/><rect x="504.60" y="658.0" width="6.1" height="20.0" fill="#f0464f"/><rect x="512.12" y="661.2" width="6.1" height="16.8" fill="#f0464f"/><rect x="519.65" y="660.0" width="6.1" height="18.0" fill="#00b98c"/><rect x="527.18" y="665.1" width="6.1" height="12.9" fill="#f0464f"/><rect x="534.70" y="664.9" width="6.1" height="13.1" fill="#f0464f"/><rect x="542.23" y="664.9" width="6.1" height="13.1" fill="#00b98c"/><rect x="549.75" y="655.0" width="6.1" height="23.0" fill="#f0464f"/><rect x="557.28" y="669.0" width="6.1" height="9.0" fill="#00b98c"/><rect x="564.80" y="668.1" width="6.1" height="9.9" fill="#00b98c"/><rect x="572.33" y="669.0" width="6.1" height="9.0" fill="#f0464f"/><rect x="579.85" y="664.1" width="6.1" height="13.9" fill="#f0464f"/><rect x="587.38" y="659.0" width="6.1" height="19.0" fill="#f0464f"/><rect x="594.90" y="662.8" width="6.1" height="15.2" fill="#00b98c"/><rect x="602.43" y="660.0" width="6.1" height="18.0" fill="#00b98c"/><rect x="609.95" y="666.4" width="6.1" height="11.6" fill="#00b98c"/><rect x="617.48" y="663.8" width="6.1" height="14.2" fill="#f0464f"/><rect x="625.00" y="660.0" width="6.1" height="18.0" fill="#f0464f"/><rect x="632.53" y="668.1" width="6.1" height="9.9" fill="#00b98c"/><rect x="640.05" y="671.0" width="6.1" height="7.0" fill="#f0464f"/><rect x="647.58" y="665.1" width="6.1" height="12.9" fill="#f0464f"/><rect x="655.10" y="667.3" width="6.1" height="10.7" fill="#00b98c"/><rect x="662.63" y="668.4" width="6.1" height="9.6" fill="#f0464f"/><rect x="670.15" y="656.7" width="6.1" height="21.3" fill="#00b98c"/><rect x="677.68" y="669.0" width="6.1" height="9.0" fill="#f0464f"/><rect x="685.20" y="667.3" width="6.1" height="10.7" fill="#f0464f"/><rect x="692.73" y="665.1" width="6.1" height="12.9" fill="#f0464f"/><rect x="700.25" y="663.8" width="6.1" height="14.2" fill="#f0464f"/><rect x="707.78" y="658.0" width="6.1" height="20.0" fill="#00b98c"/><rect x="715.30" y="656.1" width="6.1" height="21.9" fill="#f0464f"/><rect x="722.83" y="664.9" width="6.1" height="13.1" fill="#f0464f"/><rect x="730.35" y="660.0" width="6.1" height="18.0" fill="#f0464f"/><rect x="737.88" y="663.2" width="6.1" height="14.8" fill="#00b98c"/><rect x="745.40" y="652.2" width="6.1" height="25.8" fill="#00b98c"/><rect x="752.93" y="667.3" width="6.1" height="10.7" fill="#00b98c"/><rect x="760.45" y="678.0" width="6.1" height="1.0" fill="#00b98c"/><path d="M9.0 533.4L63.5 531.9L101.0 529.0L131.0 524.5L161.0 520.7L176.0 516.0L190.0 511.4L200.0 507.5L255.7 487.7L277.0 480.0L304.5 468.9L330.0 455.7L365.0 442.0L400.0 425.0L450.0 400.6L470.6 393.0L509.0 369.4L542.2 350.0L567.8 337.0L590.5 326.7L613.0 316.5L635.5 310.6L658.0 305.6L680.7 300.8L703.3 295.2L718.4 292.0L733.5 287.7L748.4 284.3L763.5 280.7" fill="none" stroke="#d81b6e" stroke-width="1.25" stroke-linejoin="round"/><path d="M9.0 532.3L63.5 526.4L101.0 515.4L131.0 507.6L161.0 499.2L176.0 492.0L192.2 480.0L221.8 464.2L244.2 452.9L274.4 435.0L304.5 415.2L330.0 397.3L360.0 376.0L387.3 359.3L417.4 350.8L440.0 344.2L462.7 337.2L470.2 334.2L485.3 324.4L500.2 314.4L510.0 307.4L522.8 300.3L545.2 290.8L567.8 283.3L590.5 277.1L613.0 272.6L635.5 269.2L658.1 266.4L673.2 264.1L688.3 260.9L695.8 260.9L710.9 262.6L726.0 266.5L740.9 269.7L763.5 270.1" fill="none" stroke="#1c68e6" stroke-width="1.25" stroke-linejoin="round"/><path d="M3.5 509.8L11.0 509.0L18.5 507.7L26.1 507.4L33.6 508.9L41.1 511.7L48.6 513.9L56.2 517.5L63.7 518.9L71.2 518.3L78.7 517.5L86.2 518.3L93.8 517.7L101.3 516.0L108.8 510.4L116.4 503.7L123.9 498.0L131.4 490.2L138.9 484.2L146.5 480.6L154.0 475.9L161.5 470.0L169.0 454.8L176.6 443.4L184.1 436.2L191.6 426.6L199.1 416.2L206.7 407.1L214.2 399.2L221.7 393.0L229.2 385.5L236.8 379.6L244.3 382.7L251.8 382.3L259.3 381.2L266.9 383.3L274.4 384.8L281.9 386.9L289.4 386.9L296.9 384.4L304.5 381.8L312.0 379.4L319.5 375.6L327.1 371.6L334.6 363.8L342.1 356.7L349.6 349.2L357.2 341.7L364.7 334.0L372.2 327.9L379.7 322.0L387.2 316.2L394.8 314.0L402.3 312.1L409.8 313.3L417.4 312.5L424.9 311.1L432.4 309.8L439.9 309.8L447.5 310.4L455.0 311.2L462.5 311.9L470.0 309.5L477.6 302.6L485.1 294.5L492.6 286.4L500.1 279.6L507.7 274.4L515.2 268.3L522.7 260.9L530.2 255.6L537.8 250.9L545.3 247.2L552.8 247.9L560.3 248.5L567.9 249.1L575.4 250.9L582.9 251.2L590.4 253.6L598.0 255.9L605.5 256.9L613.0 256.8L620.5 258.8L628.1 261.7L635.6 264.4L643.1 267.6L650.6 270.9L658.1 273.5L665.7 273.9L673.2 272.9L680.7 273.6L688.2 274.5L695.8 274.6L703.3 274.7L710.8 274.9L718.4 276.1L725.9 276.8L733.4 278.6L740.9 278.5L748.5 278.8L756.0 277.0L763.5 274.6" fill="none" stroke="#9560c0" stroke-width="1.15" stroke-linejoin="round"/><path d="M3.5 505.0L11.0 504.9L18.5 504.9L26.1 504.7L33.6 509.1L41.1 514.8L48.6 522.9L56.2 530.0L63.7 533.1L71.2 527.5L78.7 520.2L86.2 513.8L93.8 505.5L101.3 499.0L108.8 493.3L116.4 487.2L123.9 482.2L131.4 474.9L138.9 469.5L146.5 467.9L154.0 464.6L161.5 457.8L169.0 434.6L176.6 417.4L184.1 404.5L191.6 388.5L199.1 374.7L206.7 379.6L214.2 381.0L221.7 381.5L229.2 382.5L236.8 384.5L244.3 385.8L251.8 383.5L259.3 381.0L266.9 384.0L274.4 385.0L281.9 388.0L289.4 390.3L296.9 387.7L304.5 379.6L312.0 373.7L319.5 363.2L327.1 352.9L334.6 339.8L342.1 333.8L349.6 324.7L357.2 320.1L364.7 315.1L372.2 316.0L379.7 310.3L387.2 307.8L394.8 307.9L402.3 309.0L409.8 310.5L417.4 314.6L424.9 314.3L432.4 311.8L439.9 310.5L447.5 310.2L455.0 307.8L462.5 309.5L470.0 307.3L477.6 294.6L485.1 278.9L492.6 265.0L500.1 249.6L507.7 241.5L515.2 241.9L522.7 242.9L530.2 246.2L537.8 252.3L545.3 252.8L552.8 253.9L560.3 254.2L567.9 252.0L575.4 249.6L582.9 249.6L590.4 253.2L598.0 257.7L605.5 261.9L613.0 264.0L620.5 268.0L628.1 270.2L635.6 271.0L643.1 273.3L650.6 277.9L658.1 279.0L665.7 277.6L673.2 274.9L680.7 273.8L688.2 271.2L695.8 270.3L703.3 271.8L710.8 274.8L718.4 278.5L725.9 282.5L733.4 286.9L740.9 285.3L748.5 282.7L756.0 275.6L763.5 266.8" fill="none" stroke="#f29108" stroke-width="1.15" stroke-linejoin="round"/><path d="M3.5 664.6L11.0 664.5L18.5 664.3L26.1 664.3L33.6 663.6L41.1 663.2L48.6 662.9L56.2 662.9L63.7 662.7L71.2 662.0L78.7 662.0L86.2 662.2L93.8 662.2L101.3 662.5L108.8 661.1L116.4 661.0L123.9 661.1L131.4 660.6L138.9 660.5L146.5 660.2L154.0 659.5L161.5 659.3L169.0 656.8L176.6 653.6L184.1 653.6L191.6 653.2L199.1 653.5L206.7 653.4L214.2 652.7L221.7 652.8L229.2 651.7L236.8 651.5L244.3 651.6L251.8 651.4L259.3 653.0L266.9 653.3L274.4 653.4L281.9 654.1L289.4 653.8L296.9 653.8L304.5 653.9L312.0 653.9L319.5 655.2L327.1 658.1L334.6 658.3L342.1 658.3L349.6 658.4L357.2 658.6L364.7 659.7L372.2 660.2L379.7 661.4L387.2 661.4L394.8 661.2L402.3 661.0L409.8 661.1L417.4 661.2L424.9 661.3L432.4 659.7L439.9 659.4L447.5 659.3L455.0 659.6L462.5 659.0L470.0 659.8L477.6 659.2L485.1 658.0L492.6 658.0L500.1 657.5L507.7 657.0L515.2 656.7L522.7 656.7L530.2 656.6L537.8 656.6L545.3 656.9L552.8 656.7L560.3 656.7L567.9 656.6L575.4 656.7L582.9 657.8L590.4 658.0L598.0 658.0L605.5 657.9L613.0 659.0L620.5 659.5L628.1 660.3L635.6 662.1L643.1 663.4L650.6 663.8L658.1 664.2L665.7 664.6L673.2 664.4L680.7 664.6L688.2 664.8L695.8 664.8L703.3 665.2L710.8 664.6L718.4 664.0L725.9 663.8L733.4 663.6L740.9 663.9L748.5 663.3L756.0 663.7L763.5 664.3" fill="none" stroke="#1c68e6" stroke-width="1.1" stroke-linejoin="round"/><path d="M3.5 665.1L11.0 665.0L18.5 664.8L26.1 665.0L33.6 663.8L41.1 663.0L48.6 662.7L56.2 662.1L63.7 661.1L71.2 659.2L78.7 658.7L86.2 659.4L93.8 659.7L101.3 660.0L108.8 658.3L116.4 659.0L123.9 659.6L131.4 659.0L138.9 659.8L146.5 661.2L154.0 660.2L161.5 659.2L169.0 653.9L176.6 647.1L184.1 648.9L191.6 647.4L199.1 647.3L206.7 647.8L214.2 645.6L221.7 644.4L229.2 643.1L236.8 643.9L244.3 649.2L251.8 655.6L259.3 657.1L266.9 659.2L274.4 659.4L281.9 660.3L289.4 661.9L296.9 663.2L304.5 664.6L312.0 663.9L319.5 661.2L327.1 660.5L334.6 659.5L342.1 657.4L349.6 657.4L357.2 657.0L364.7 657.5L372.2 657.2L379.7 658.1L387.2 658.8L394.8 661.2L402.3 661.4L409.8 662.7L417.4 665.1L424.9 665.2L432.4 662.5L439.9 661.3L447.5 661.5L455.0 661.1L462.5 659.2L470.0 658.5L477.6 656.9L485.1 653.4L492.6 650.9L500.1 649.8L507.7 651.5L515.2 652.1L522.7 651.9L530.2 652.1L537.8 654.1L545.3 655.3L552.8 656.4L560.3 660.0L567.9 662.3L575.4 663.5L582.9 664.1L590.4 663.9L598.0 664.2L605.5 663.7L613.0 663.8L620.5 663.7L628.1 664.2L635.6 664.1L643.1 664.4L650.6 664.0L658.1 664.4L665.7 665.3L673.2 664.7L680.7 665.6L688.2 665.7L695.8 665.8L703.3 666.2L710.8 665.2L718.4 663.7L725.9 663.7L733.4 662.9L740.9 662.4L748.5 662.0L756.0 661.8L763.5 662.9" fill="none" stroke="#9560c0" stroke-width="1" stroke-linejoin="round"/><path d="M3.5 668.8L11.0 667.7L18.5 665.8L26.1 664.8L33.6 660.9L41.1 657.9L48.6 657.7L56.2 658.4L63.7 657.5L71.2 657.5L78.7 659.4L86.2 661.1L93.8 661.0L101.3 662.6L108.8 659.2L116.4 658.6L123.9 658.1L131.4 657.0L138.9 657.0L146.5 663.2L154.0 661.9L161.5 660.3L169.0 650.8L176.6 637.2L184.1 634.6L191.6 632.9L199.1 634.3L206.7 644.8L214.2 654.1L221.7 654.1L229.2 653.4L236.8 653.4L244.3 653.6L251.8 657.1L259.3 660.2L266.9 665.0L274.4 665.5L281.9 667.1L289.4 666.7L296.9 666.2L304.5 664.3L312.0 662.4L319.5 655.4L327.1 654.4L334.6 652.7L342.1 650.6L349.6 652.4L357.2 658.5L364.7 660.6L372.2 661.6L379.7 665.7L387.2 665.2L394.8 663.8L402.3 662.2L409.8 663.8L417.4 664.5L424.9 665.2L432.4 661.2L439.9 660.4L447.5 659.1L455.0 657.7L462.5 653.2L470.0 655.7L477.6 653.4L485.1 647.6L492.6 644.0L500.1 646.3L507.7 647.3L515.2 650.8L522.7 656.2L530.2 660.2L537.8 661.8L545.3 663.2L552.8 662.0L560.3 663.8L567.9 664.4L575.4 665.2L582.9 665.0L590.4 665.8L598.0 664.6L605.5 663.0L613.0 662.5L620.5 662.4L628.1 662.6L635.6 663.7L643.1 665.9L650.6 665.6L658.1 666.3L665.7 668.0L673.2 665.7L680.7 665.3L688.2 665.7L695.8 665.3L703.3 664.4L710.8 664.6L718.4 662.1L725.9 661.6L733.4 660.6L740.9 660.4L748.5 659.3L756.0 661.5L763.5 664.1" fill="none" stroke="#f29108" stroke-width="1" stroke-linejoin="round"/><path d="M496.500 207.500h4.500v5M499.200 210.300l1.800 2.200 1.800-2.200" fill="none" stroke="#8f8f8f" stroke-width="1"/><path d="M50.500 552v5.500h4.500M48.700 554.200l1.800-2.200 1.800 2.200" fill="none" stroke="#8f8f8f" stroke-width="1"/></g></svg>
<span class="t c" id="t36" style="left:20.6px;top:157.0px;font-size:11px;line-height:11px;color:#8a8a8a;letter-spacing:-0.02px;-webkit-text-stroke:0.15px #8a8a8a;">Time:</span>
<span class="t c" id="t37" style="left:48.2px;top:157.0px;font-size:11px;line-height:11px;color:#19b98b;letter-spacing:0.28px;-webkit-text-stroke:0.15px #19b98b;">2025-11-10 10:49</span>
<span class="t c" id="t38" style="left:154.0px;top:157.0px;font-size:11px;line-height:11px;color:#8a8a8a;letter-spacing:0.13px;-webkit-text-stroke:0.15px #8a8a8a;">Open:</span>
<span class="t c" id="t39" style="left:185.1px;top:157.0px;font-size:11px;line-height:11px;color:#19b98b;letter-spacing:0.05px;-webkit-text-stroke:0.15px #19b98b;">3,627.61</span>
<span class="t c" id="t40" style="left:243.9px;top:157.0px;font-size:11px;line-height:11px;color:#8a8a8a;letter-spacing:0.10px;-webkit-text-stroke:0.15px #8a8a8a;">High:</span>
<span class="t c" id="t41" style="left:270.6px;top:157.0px;font-size:11px;line-height:11px;color:#19b98b;letter-spacing:0.12px;-webkit-text-stroke:0.15px #19b98b;">3,629.75</span>
<span class="t c" id="t42" style="left:329.9px;top:157.0px;font-size:11px;line-height:11px;color:#8a8a8a;letter-spacing:-0.02px;-webkit-text-stroke:0.15px #8a8a8a;">Low:</span>
<span class="t c" id="t43" style="left:353.7px;top:157.0px;font-size:11px;line-height:11px;color:#19b98b;letter-spacing:0.04px;-webkit-text-stroke:0.15px #19b98b;">3,627.61</span>
<span class="t c" id="t44" style="left:413.0px;top:157.0px;font-size:11px;line-height:11px;color:#8a8a8a;letter-spacing:0.06px;-webkit-text-stroke:0.15px #8a8a8a;">Close:</span>
<span class="t c" id="t45" style="left:445.1px;top:157.0px;font-size:11px;line-height:11px;color:#19b98b;letter-spacing:0.14px;-webkit-text-stroke:0.15px #19b98b;">3,629.75</span>
<span class="t c" id="t46" style="left:504.5px;top:157.0px;font-size:11px;line-height:11px;color:#8a8a8a;letter-spacing:-0.01px;-webkit-text-stroke:0.15px #8a8a8a;">Volume:</span>
<span class="t c" id="t47" style="left:544.8px;top:157.0px;font-size:11px;line-height:11px;color:#19b98b;letter-spacing:0.11px;-webkit-text-stroke:0.15px #19b98b;">792.00</span>
<span class="t c" id="t48" style="left:594.3px;top:157.0px;font-size:11px;line-height:11px;color:#8a8a8a;letter-spacing:-0.04px;-webkit-text-stroke:0.15px #8a8a8a;">Increase:</span>
<span class="t c" id="t49" style="left:639.8px;top:157.0px;font-size:11px;line-height:11px;color:#19b98b;letter-spacing:0.35px;-webkit-text-stroke:0.15px #19b98b;">0.13%</span>
<span class="t c" id="t50" style="left:688.6px;top:157.0px;font-size:11px;line-height:11px;color:#8a8a8a;letter-spacing:0.21px;-webkit-text-stroke:0.15px #8a8a8a;">Amplitude:</span>
<span class="t c" id="t51" style="left:743.1px;top:157.0px;font-size:11px;line-height:11px;color:#19b98b;letter-spacing:0.15px;-webkit-text-stroke:0.15px #19b98b;">0.05%</span>
<span class="t c" id="t52" style="left:21.2px;top:176.0px;font-size:11px;line-height:11px;color:#8a8a8a;letter-spacing:-0.03px;-webkit-text-stroke:0.15px #8a8a8a;">MA(5,10,30,60)</span>
<span class="t c" id="t53" style="left:112.8px;top:176.0px;font-size:11px;line-height:11px;color:#f29108;letter-spacing:0.05px;-webkit-text-stroke:0.15px #f29108;">MA5: 3,613.31</span>
<span class="t c" id="t54" style="left:200.9px;top:176.0px;font-size:11px;line-height:11px;color:#935ebd;letter-spacing:0.14px;-webkit-text-stroke:0.15px #935ebd;">MA10: 3,606.62</span>
<span class="t c" id="t55" style="left:296.0px;top:176.0px;font-size:11px;line-height:11px;color:#1f6fe8;letter-spacing:0.21px;-webkit-text-stroke:0.15px #1f6fe8;">MA30: 3,611.55</span>
<span class="t c" id="t56" style="left:391.2px;top:176.0px;font-size:11px;line-height:11px;color:#e11d74;letter-spacing:0.18px;-webkit-text-stroke:0.15px #e11d74;">MA60: 3,601.76</span>
<span class="t c" id="t57" style="left:20.7px;top:597.0px;font-size:11px;line-height:11px;color:#8a8a8a;letter-spacing:-0.11px;-webkit-text-stroke:0.15px #8a8a8a;">VOL(5,10,20)</span>
<span class="t c" id="t58" style="left:101.0px;top:597.0px;font-size:11px;line-height:11px;color:#f29108;letter-spacing:0.21px;-webkit-text-stroke:0.15px #f29108;">MA5: 15.016K</span>
<span class="t c" id="t59" style="left:188.2px;top:597.0px;font-size:11px;line-height:11px;color:#935ebd;letter-spacing:0.15px;-webkit-text-stroke:0.15px #935ebd;">MA10: 15.965K</span>
<span class="t c" id="t60" style="left:281.7px;top:597.0px;font-size:11px;line-height:11px;color:#1f6fe8;letter-spacing:0.12px;-webkit-text-stroke:0.15px #1f6fe8;">MA20: 14.421K</span>
<span class="t c" id="t61" style="left:374.6px;top:597.0px;font-size:11px;line-height:11px;color:#19b98b;letter-spacing:0.05px;-webkit-text-stroke:0.15px #19b98b;">VOLUME: 792.00</span>
<span class="t c" id="t62" style="left:850.6px;top:181.0px;font-size:11px;line-height:11px;color:#8a8a8a;letter-spacing:0.17px;-webkit-text-stroke:0.15px #8a8a8a;">3,680.00</span>
<span class="t c" id="t63" style="left:850.6px;top:230.0px;font-size:11px;line-height:11px;color:#8a8a8a;letter-spacing:0.17px;-webkit-text-stroke:0.15px #8a8a8a;">3,640.00</span>
<span class="t c" id="t64" style="left:850.6px;top:279.0px;font-size:11px;line-height:11px;color:#8a8a8a;letter-spacing:0.17px;-webkit-text-stroke:0.15px #8a8a8a;">3,600.00</span>
<span class="t c" id="t65" style="left:850.6px;top:328.0px;font-size:11px;line-height:11px;color:#8a8a8a;letter-spacing:0.17px;-webkit-text-stroke:0.15px #8a8a8a;">3,560.00</span>
<span class="t c" id="t66" style="left:850.6px;top:377.0px;font-size:11px;line-height:11px;color:#8a8a8a;letter-spacing:0.17px;-webkit-text-stroke:0.15px #8a8a8a;">3,520.00</span>
<span class="t c" id="t67" style="left:850.6px;top:426.0px;font-size:11px;line-height:11px;color:#8a8a8a;letter-spacing:0.17px;-webkit-text-stroke:0.15px #8a8a8a;">3,480.00</span>
<span class="t c" id="t68" style="left:850.6px;top:475.0px;font-size:11px;line-height:11px;color:#8a8a8a;letter-spacing:0.17px;-webkit-text-stroke:0.15px #8a8a8a;">3,440.00</span>
<span class="t c" id="t69" style="left:850.6px;top:524.0px;font-size:11px;line-height:11px;color:#8a8a8a;letter-spacing:0.17px;-webkit-text-stroke:0.15px #8a8a8a;">3,400.00</span>
<span class="t c" id="t70" style="left:850.6px;top:598.0px;font-size:11px;line-height:11px;color:#8a8a8a;letter-spacing:0.16px;-webkit-text-stroke:0.15px #8a8a8a;">80K</span>
<span class="t c" id="t71" style="left:850.6px;top:627.0px;font-size:11px;line-height:11px;color:#8a8a8a;letter-spacing:0.16px;-webkit-text-stroke:0.15px #8a8a8a;">50K</span>
<span class="t c" id="t72" style="left:850.6px;top:655.0px;font-size:11px;line-height:11px;color:#8a8a8a;letter-spacing:0.16px;-webkit-text-stroke:0.15px #8a8a8a;">20K</span>
<span class="t c" id="t73" style="left:72.2px;top:688.0px;font-size:11px;line-height:11px;color:#8a8a8a;letter-spacing:0.02px;-webkit-text-stroke:0.15px #8a8a8a;">12:30</span>
<span class="t c" id="t74" style="left:147.5px;top:688.0px;font-size:11px;line-height:11px;color:#8a8a8a;letter-spacing:0.02px;-webkit-text-stroke:0.15px #8a8a8a;">15:00</span>
<span class="t c" id="t75" style="left:222.7px;top:688.0px;font-size:11px;line-height:11px;color:#8a8a8a;letter-spacing:0.02px;-webkit-text-stroke:0.15px #8a8a8a;">17:30</span>
<span class="t c" id="t76" style="left:298.0px;top:688.0px;font-size:11px;line-height:11px;color:#8a8a8a;letter-spacing:0.02px;-webkit-text-stroke:0.15px #8a8a8a;">20:00</span>
<span class="t c" id="t77" style="left:373.2px;top:688.0px;font-size:11px;line-height:11px;color:#8a8a8a;letter-spacing:0.02px;-webkit-text-stroke:0.15px #8a8a8a;">22:30</span>
<span class="t c" id="t78" style="left:448.5px;top:688.0px;font-size:11px;line-height:11px;color:#8a8a8a;letter-spacing:0.07px;-webkit-text-stroke:0.15px #8a8a8a;">11-10</span>
<span class="t c" id="t79" style="left:523.7px;top:688.0px;font-size:11px;line-height:11px;color:#8a8a8a;letter-spacing:0.02px;-webkit-text-stroke:0.15px #8a8a8a;">03:30</span>
<span class="t c" id="t80" style="left:599.0px;top:688.0px;font-size:11px;line-height:11px;color:#8a8a8a;letter-spacing:0.02px;-webkit-text-stroke:0.15px #8a8a8a;">06:00</span>
<span class="t c" id="t81" style="left:674.2px;top:688.0px;font-size:11px;line-height:11px;color:#8a8a8a;letter-spacing:0.02px;-webkit-text-stroke:0.15px #8a8a8a;">08:30</span>
<span class="t c" id="t82" style="left:749.5px;top:688.0px;font-size:11px;line-height:11px;color:#8a8a8a;letter-spacing:0.02px;-webkit-text-stroke:0.15px #8a8a8a;">10:49</span>
<div class="ab" style="left:9px;top:686px;width:20px;height:16px;overflow:hidden"><span class="t c" style="left:-11.800px;top:2px;font-size:11px;line-height:11px;color:#8a8a8a">10:00</span></div>
<span class="t c" id="t83" style="left:446.5px;top:203.0px;font-size:11px;line-height:11px;color:#8f8f8f;letter-spacing:0.07px;-webkit-text-stroke:0.15px #8f8f8f;">3,656.93</span>
<span class="t c" id="t84" style="left:57.0px;top:553.0px;font-size:11px;line-height:11px;color:#8f8f8f;letter-spacing:0.07px;-webkit-text-stroke:0.15px #8f8f8f;">3,380.91</span>
<div class="ab" style="left:843.300px;top:237.300px;width:51.400px;height:19.200px;background:#08b98a;border-radius:2px"></div>
<span class="t c" id="t85" style="left:846.6px;top:242.0px;font-size:11px;line-height:11px;color:#fff;letter-spacing:0.17px;-webkit-text-stroke:0.15px #fff;">3,629.75</span>
<span class="t" id="t86" style="left:915.8px;top:118.0px;font-size:13.5px;line-height:13.5px;color:#1fa2b6;letter-spacing:0.50px;-webkit-text-stroke:0.4px #1fa2b6;">Order Book</span>
<span class="t" id="t87" style="left:1013.0px;top:118.0px;font-size:13.5px;line-height:13.5px;color:#7b7b7b;letter-spacing:0.47px;-webkit-text-stroke:0.3px #7b7b7b;">Transactions</span>
<svg class="ab" style="left:915.5px;top:159px" width="23" height="23"><rect x=".500" y=".500" width="22" height="22" rx="3" fill="none" stroke="#222"/><rect x="2.800" y="5" width="7.200" height="6" rx="1.800" fill="#f0475a"/><rect x="2.800" y="12.300" width="7.200" height="6" rx="1.800" fill="#27a9c0"/><rect x="11.500" y="5.3" width="8.700" height="3.900" rx="1.900" fill="#fff"/><rect x="11.500" y="9.7" width="8.700" height="3.900" rx="1.900" fill="#fff"/><rect x="11.500" y="14.1" width="8.700" height="3.900" rx="1.900" fill="#fff"/></svg>
<svg class="ab" style="left:945.5px;top:159px" width="23" height="23"><rect x=".500" y=".500" width="22" height="22" rx="3" fill="none" stroke="#222"/><rect x="2.800" y="4.500" width="7.300" height="14" rx="1" fill="#0a1a1b"/><rect x="12" y="5.3" width="8" height="3.600" rx="1.200" fill="#3a3a3f"/><rect x="12" y="9.7" width="8" height="3.600" rx="1.200" fill="#3a3a3f"/><rect x="12" y="14.1" width="8" height="3.600" rx="1.200" fill="#3a3a3f"/></svg>
<svg class="ab" style="left:975.5px;top:159px" width="23" height="23"><rect x=".500" y=".500" width="22" height="22" rx="3" fill="none" stroke="#222"/><rect x="2.800" y="4.500" width="7.300" height="14" rx="1" fill="#220c10"/><rect x="12" y="5.3" width="8" height="3.600" rx="1.200" fill="#3a3a3f"/><rect x="12" y="9.7" width="8" height="3.600" rx="1.200" fill="#3a3a3f"/><rect x="12" y="14.1" width="8" height="3.600" rx="1.200" fill="#3a3a3f"/></svg>
<div class="ab" style="left:1189px;top:159px;width:76px;height:22.500px;background:#1c1c1c;border-radius:4px"></div>
<span class="t" id="t88" style="left:1196.7px;top:164.0px;font-size:13px;line-height:13px;color:#fff;letter-spacing:-0.00px;-webkit-text-stroke:0.3px #fff;">0.01</span>
<svg class="ab" style="left:1247px;top:167px" width="11" height="8"><path d="M1.400 1.500h8.200L5.500 6z" fill="#9a9a9a"/></svg>
<span class="t" id="t89" style="left:915.6px;top:201.0px;font-size:9.5px;line-height:9.5px;color:#7a7a7a;letter-spacing:0.04px;-webkit-text-stroke:0.2px #7a7a7a;">Price(USDT)</span>
<span class="t" id="t90" style="left:1077.3px;top:201.0px;font-size:9.5px;line-height:9.5px;color:#7a7a7a;letter-spacing:0.23px;-webkit-text-stroke:0.2px #7a7a7a;">Amount(ETH)</span>
<span class="t" id="t91" style="left:1205.0px;top:201.0px;font-size:9.5px;line-height:9.5px;color:#7a7a7a;letter-spacing:0.02px;-webkit-text-stroke:0.2px #7a7a7a;">Sum(ETH)</span>
<svg class="ab" style="left:1252px;top:203px" width="8" height="7"><path d="M1.200 1.300h5.600L4 5.500z" fill="#bbb"/></svg>
<div class="ab" style="left:1152.1px;top:223.3px;width:112.9px;height:19.03px;background:#250d10"></div>
<div class="ab" style="left:1168.0px;top:242.1px;width:97.0px;height:19.03px;background:#250d10"></div>
<div class="ab" style="left:1186.4px;top:261.0px;width:78.6px;height:19.03px;background:#250d10"></div>
<div class="ab" style="left:1192.9px;top:279.8px;width:72.1px;height:19.03px;background:#250d10"></div>
<div class="ab" style="left:1201.6px;top:298.6px;width:63.4px;height:19.03px;background:#250d10"></div>
<div class="ab" style="left:1209.3px;top:317.4px;width:55.7px;height:19.03px;background:#250d10"></div>
<div class="ab" style="left:1209.6px;top:336.3px;width:55.4px;height:19.03px;background:#250d10"></div>
<div class="ab" style="left:1215.5px;top:355.1px;width:49.5px;height:19.03px;background:#250d10"></div>
<div class="ab" style="left:1221.4px;top:373.9px;width:43.6px;height:19.03px;background:#250d10"></div>
<div class="ab" style="left:1225.2px;top:392.8px;width:39.8px;height:19.03px;background:#250d10"></div>
<span class="t" id="t92" style="left:915.6px;top:228.0px;font-size:11px;line-height:11px;color:#e8474d;letter-spacing:-0.10px;-webkit-text-stroke:0.4px #e8474d;">3,626.96</span>
<span class="t" id="t93" style="left:1115.4px;top:228.0px;font-size:11px;line-height:11px;color:#fff;letter-spacing:0.29px;-webkit-text-stroke:0.4px #fff;">7.66</span>
<span class="t" id="t94" style="left:1235.3px;top:228.0px;font-size:11px;line-height:11px;color:#fff;letter-spacing:0.29px;-webkit-text-stroke:0.4px #fff;">54.48</span>
<span class="t" id="t95" style="left:915.6px;top:247.0px;font-size:11px;line-height:11px;color:#e8474d;letter-spacing:-0.10px;-webkit-text-stroke:0.4px #e8474d;">3,626.95</span>
<span class="t" id="t96" style="left:1115.4px;top:247.0px;font-size:11px;line-height:11px;color:#fff;letter-spacing:0.29px;-webkit-text-stroke:0.4px #fff;">8.88</span>
<span class="t" id="t97" style="left:1235.3px;top:247.0px;font-size:11px;line-height:11px;color:#fff;letter-spacing:0.29px;-webkit-text-stroke:0.4px #fff;">46.82</span>
<span class="t" id="t98" style="left:915.6px;top:265.0px;font-size:11px;line-height:11px;color:#e8474d;letter-spacing:-0.10px;-webkit-text-stroke:0.4px #e8474d;">3,626.94</span>
<span class="t" id="t99" style="left:1117.2px;top:265.0px;font-size:11px;line-height:11px;color:#fff;letter-spacing:-0.31px;-webkit-text-stroke:0.4px #fff;">3.13</span>
<span class="t" id="t100" style="left:1235.3px;top:265.0px;font-size:11px;line-height:11px;color:#fff;letter-spacing:0.29px;-webkit-text-stroke:0.4px #fff;">37.94</span>
<span class="t" id="t101" style="left:915.6px;top:284.0px;font-size:11px;line-height:11px;color:#e8474d;letter-spacing:-0.10px;-webkit-text-stroke:0.4px #e8474d;">3,626.93</span>
<span class="t" id="t102" style="left:1117.2px;top:284.0px;font-size:11px;line-height:11px;color:#fff;letter-spacing:-0.31px;-webkit-text-stroke:0.4px #fff;">4.21</span>
<span class="t" id="t103" style="left:1237.1px;top:284.0px;font-size:11px;line-height:11px;color:#fff;letter-spacing:-0.16px;-webkit-text-stroke:0.4px #fff;">34.81</span>
<span class="t" id="t104" style="left:915.6px;top:303.0px;font-size:11px;line-height:11px;color:#e8474d;letter-spacing:-0.10px;-webkit-text-stroke:0.4px #e8474d;">3,626.92</span>
<span class="t" id="t105" style="left:1115.4px;top:303.0px;font-size:11px;line-height:11px;color:#fff;letter-spacing:0.29px;-webkit-text-stroke:0.4px #fff;">3.73</span>
<span class="t" id="t106" style="left:1235.3px;top:303.0px;font-size:11px;line-height:11px;color:#fff;letter-spacing:0.29px;-webkit-text-stroke:0.4px #fff;">30.60</span>
<span class="t" id="t107" style="left:915.6px;top:322.0px;font-size:11px;line-height:11px;color:#e8474d;letter-spacing:-0.10px;-webkit-text-stroke:0.4px #e8474d;">3,626.91</span>
<span class="t" id="t108" style="left:1119.1px;top:322.0px;font-size:11px;line-height:11px;color:#fff;letter-spacing:-0.67px;-webkit-text-stroke:0.4px #fff;">0.11</span>
<span class="t" id="t109" style="left:1235.3px;top:322.0px;font-size:11px;line-height:11px;color:#fff;letter-spacing:0.29px;-webkit-text-stroke:0.4px #fff;">26.87</span>
<span class="t" id="t110" style="left:915.6px;top:341.0px;font-size:11px;line-height:11px;color:#e8474d;letter-spacing:-0.10px;-webkit-text-stroke:0.4px #e8474d;">3,626.90</span>
<span class="t" id="t111" style="left:1115.4px;top:341.0px;font-size:11px;line-height:11px;color:#fff;letter-spacing:0.29px;-webkit-text-stroke:0.4px #fff;">2.89</span>
<span class="t" id="t112" style="left:1235.3px;top:341.0px;font-size:11px;line-height:11px;color:#fff;letter-spacing:0.29px;-webkit-text-stroke:0.4px #fff;">26.76</span>
<span class="t" id="t113" style="left:915.6px;top:360.0px;font-size:11px;line-height:11px;color:#e8474d;letter-spacing:-0.10px;-webkit-text-stroke:0.4px #e8474d;">3,626.89</span>
<span class="t" id="t114" style="left:1115.4px;top:360.0px;font-size:11px;line-height:11px;color:#fff;letter-spacing:0.29px;-webkit-text-stroke:0.4px #fff;">2.83</span>
<span class="t" id="t115" style="left:1235.3px;top:360.0px;font-size:11px;line-height:11px;color:#fff;letter-spacing:0.29px;-webkit-text-stroke:0.4px #fff;">23.87</span>
<span class="t" id="t116" style="left:915.6px;top:378.0px;font-size:11px;line-height:11px;color:#e8474d;letter-spacing:-0.10px;-webkit-text-stroke:0.4px #e8474d;">3,626.88</span>
<span class="t" id="t117" style="left:1117.2px;top:378.0px;font-size:11px;line-height:11px;color:#fff;letter-spacing:-0.31px;-webkit-text-stroke:0.4px #fff;">1.82</span>
<span class="t" id="t118" style="left:1237.1px;top:378.0px;font-size:11px;line-height:11px;color:#fff;letter-spacing:-0.16px;-webkit-text-stroke:0.4px #fff;">21.04</span>
<span class="t" id="t119" style="left:915.6px;top:397.0px;font-size:11px;line-height:11px;color:#e8474d;letter-spacing:-0.10px;-webkit-text-stroke:0.4px #e8474d;">3,626.87</span>
<span class="t" id="t120" style="left:1110.8px;top:397.0px;font-size:11px;line-height:11px;color:#fff;letter-spacing:-0.16px;-webkit-text-stroke:0.4px #fff;">19.22</span>
<span class="t" id="t121" style="left:1237.1px;top:397.0px;font-size:11px;line-height:11px;color:#fff;letter-spacing:-0.16px;-webkit-text-stroke:0.4px #fff;">19.22</span>
<div class="ab" style="left:1075.2px;top:464.4px;width:189.8px;height:19.00px;background:#081a13"></div>
<div class="ab" style="left:1061.8px;top:483.2px;width:203.2px;height:19.00px;background:#081a13"></div>
<div class="ab" style="left:1045.2px;top:502.0px;width:219.8px;height:19.00px;background:#081a13"></div>
<div class="ab" style="left:1041.4px;top:520.8px;width:223.6px;height:19.00px;background:#081a13"></div>
<div class="ab" style="left:1039.4px;top:539.6px;width:225.6px;height:19.00px;background:#081a13"></div>
<div class="ab" style="left:1036.2px;top:558.3px;width:228.8px;height:19.00px;background:#081a13"></div>
<div class="ab" style="left:1020.5px;top:577.1px;width:244.5px;height:19.00px;background:#081a13"></div>
<div class="ab" style="left:1019.0px;top:595.9px;width:246.1px;height:19.00px;background:#081a13"></div>
<div class="ab" style="left:1017.5px;top:614.7px;width:247.5px;height:19.00px;background:#081a13"></div>
<div class="ab" style="left:998.0px;top:633.5px;width:267.0px;height:19.00px;background:#081a13"></div>
<span class="t" id="t122" style="left:915.6px;top:469.0px;font-size:11px;line-height:11px;color:#16b487;letter-spacing:0.01px;-webkit-text-stroke:0.4px #16b487;">3,629.74</span>
<span class="t" id="t123" style="left:1110.8px;top:469.0px;font-size:11px;line-height:11px;color:#fff;letter-spacing:-0.16px;-webkit-text-stroke:0.4px #fff;">91.58</span>
<span class="t" id="t124" style="left:1237.1px;top:469.0px;font-size:11px;line-height:11px;color:#fff;letter-spacing:-0.16px;-webkit-text-stroke:0.4px #fff;">91.58</span>
<span class="t" id="t125" style="left:915.6px;top:488.0px;font-size:11px;line-height:11px;color:#16b487;letter-spacing:0.01px;-webkit-text-stroke:0.4px #16b487;">3,629.73</span>
<span class="t" id="t126" style="left:1115.4px;top:488.0px;font-size:11px;line-height:11px;color:#fff;letter-spacing:0.29px;-webkit-text-stroke:0.4px #fff;">6.50</span>
<span class="t" id="t127" style="left:1235.3px;top:488.0px;font-size:11px;line-height:11px;color:#fff;letter-spacing:0.29px;-webkit-text-stroke:0.4px #fff;">98.08</span>
<span class="t" id="t128" style="left:915.6px;top:506.0px;font-size:11px;line-height:11px;color:#16b487;letter-spacing:0.01px;-webkit-text-stroke:0.4px #16b487;">3,629.72</span>
<span class="t" id="t129" style="left:1115.4px;top:506.0px;font-size:11px;line-height:11px;color:#fff;letter-spacing:0.29px;-webkit-text-stroke:0.4px #fff;">7.98</span>
<span class="t" id="t130" style="left:1230.7px;top:506.0px;font-size:11px;line-height:11px;color:#fff;letter-spacing:-0.07px;-webkit-text-stroke:0.4px #fff;">106.06</span>
<span class="t" id="t131" style="left:915.6px;top:525.0px;font-size:11px;line-height:11px;color:#16b487;letter-spacing:0.01px;-webkit-text-stroke:0.4px #16b487;">3,629.71</span>
<span class="t" id="t132" style="left:1117.2px;top:525.0px;font-size:11px;line-height:11px;color:#fff;letter-spacing:-0.31px;-webkit-text-stroke:0.4px #fff;">1.84</span>
<span class="t" id="t133" style="left:1230.7px;top:525.0px;font-size:11px;line-height:11px;color:#fff;letter-spacing:-0.07px;-webkit-text-stroke:0.4px #fff;">107.90</span>
<span class="t" id="t134" style="left:915.6px;top:544.0px;font-size:11px;line-height:11px;color:#16b487;letter-spacing:0.01px;-webkit-text-stroke:0.4px #16b487;">3,629.70</span>
<span class="t" id="t135" style="left:1115.4px;top:544.0px;font-size:11px;line-height:11px;color:#fff;letter-spacing:0.29px;-webkit-text-stroke:0.4px #fff;">0.99</span>
<span class="t" id="t136" style="left:1230.7px;top:544.0px;font-size:11px;line-height:11px;color:#fff;letter-spacing:-0.07px;-webkit-text-stroke:0.4px #fff;">108.89</span>
<span class="t" id="t137" style="left:915.6px;top:563.0px;font-size:11px;line-height:11px;color:#16b487;letter-spacing:0.01px;-webkit-text-stroke:0.4px #16b487;">3,629.69</span>
<span class="t" id="t138" style="left:1117.2px;top:563.0px;font-size:11px;line-height:11px;color:#fff;letter-spacing:-0.31px;-webkit-text-stroke:0.4px #fff;">1.54</span>
<span class="t" id="t139" style="left:1232.5px;top:563.0px;font-size:11px;line-height:11px;color:#fff;letter-spacing:-0.27px;-webkit-text-stroke:0.4px #fff;">110.43</span>
<span class="t" id="t140" style="left:915.6px;top:582.0px;font-size:11px;line-height:11px;color:#16b487;letter-spacing:0.01px;-webkit-text-stroke:0.4px #16b487;">3,629.68</span>
<span class="t" id="t141" style="left:1115.4px;top:582.0px;font-size:11px;line-height:11px;color:#fff;letter-spacing:0.29px;-webkit-text-stroke:0.4px #fff;">7.56</span>
<span class="t" id="t142" style="left:1232.5px;top:582.0px;font-size:11px;line-height:11px;color:#fff;letter-spacing:-0.27px;-webkit-text-stroke:0.4px #fff;">117.99</span>
<span class="t" id="t143" style="left:915.6px;top:600.0px;font-size:11px;line-height:11px;color:#16b487;letter-spacing:0.01px;-webkit-text-stroke:0.4px #16b487;">3,629.67</span>
<span class="t" id="t144" style="left:1115.4px;top:600.0px;font-size:11px;line-height:11px;color:#fff;letter-spacing:0.29px;-webkit-text-stroke:0.4px #fff;">0.76</span>
<span class="t" id="t145" style="left:1232.5px;top:600.0px;font-size:11px;line-height:11px;color:#fff;letter-spacing:-0.27px;-webkit-text-stroke:0.4px #fff;">118.75</span>
<span class="t" id="t146" style="left:915.6px;top:619.0px;font-size:11px;line-height:11px;color:#16b487;letter-spacing:0.01px;-webkit-text-stroke:0.4px #16b487;">3,629.66</span>
<span class="t" id="t147" style="left:1115.4px;top:619.0px;font-size:11px;line-height:11px;color:#fff;letter-spacing:0.29px;-webkit-text-stroke:0.4px #fff;">0.68</span>
<span class="t" id="t148" style="left:1232.5px;top:619.0px;font-size:11px;line-height:11px;color:#fff;letter-spacing:-0.27px;-webkit-text-stroke:0.4px #fff;">119.43</span>
<span class="t" id="t149" style="left:915.6px;top:638.0px;font-size:11px;line-height:11px;color:#16b487;letter-spacing:0.01px;-webkit-text-stroke:0.4px #16b487;">3,629.65</span>
<span class="t" id="t150" style="left:1115.4px;top:638.0px;font-size:11px;line-height:11px;color:#fff;letter-spacing:0.29px;-webkit-text-stroke:0.4px #fff;">9.42</span>
<span class="t" id="t151" style="left:1230.7px;top:638.0px;font-size:11px;line-height:11px;color:#fff;letter-spacing:-0.07px;-webkit-text-stroke:0.4px #fff;">128.85</span>
<span class="t b" id="t152" style="left:915.8px;top:428.0px;font-size:22.5px;line-height:22.5px;color:#12ba8a;letter-spacing:-0.19px;">3629.75</span>
<svg class="ab" style="left:999px;top:431px" width="13" height="16"><path d="M6.300 .900L1 7.200h3.400v7.400h3.800V7.200h3.400z" fill="#12ba8a"/></svg>
<span class="t" id="t153" style="left:1024.4px;top:430.0px;font-size:15px;line-height:15px;color:#b4b4b4;letter-spacing:-0.27px;-webkit-text-stroke:0.2px #b4b4b4;">3628.28</span>
<div class="ab" style="left:918px;top:670px;width:138px;height:4px;background:#ef4a52;border-radius:2px"></div>
<div class="ab" style="left:1060px;top:670px;width:201.500px;height:4px;background:#0fba8a;border-radius:2px"></div>
<span class="t" id="t154" style="left:918.7px;top:684.0px;font-size:10.5px;line-height:10.5px;color:#e8474d;letter-spacing:0.39px;-webkit-text-stroke:0.3px #e8474d;">S 40.57%</span>
<span class="t" id="t155" style="left:1213.0px;top:684.0px;font-size:10.5px;line-height:10.5px;color:#16b487;letter-spacing:0.39px;-webkit-text-stroke:0.3px #16b487;">B 59.42%</span>
<span class="t" id="t156" style="left:1312.0px;top:120.0px;font-size:11.5px;line-height:11.5px;color:#fff;letter-spacing:0.67px;-webkit-text-stroke:0.35px #fff;">Isolated</span>
<svg class="ab" style="left:1359.500px;top:121px" width="11" height="9" fill="none" stroke="#bbb" stroke-width="1.200"><path d="M1.600 2.500l3.900 3.700 3.900-3.700"/></svg>
<span class="t" id="t157" style="left:1388.0px;top:120.0px;font-size:11.5px;line-height:11.5px;color:#fff;letter-spacing:-0.27px;-webkit-text-stroke:0.35px #fff;">10x</span>
<svg class="ab" style="left:1409px;top:121px" width="11" height="9" fill="none" stroke="#bbb" stroke-width="1.200"><path d="M1.600 2.500l3.900 3.700 3.900-3.700"/></svg>
<span class="t" id="t158" style="left:1297.4px;top:155.0px;font-size:15px;line-height:15px;color:#1fa2b6;letter-spacing:0.11px;-webkit-text-stroke:0.5px #1fa2b6;">Limit</span>
<span class="t" id="t159" style="left:1353.0px;top:155.0px;font-size:15px;line-height:15px;color:#a8a8a8;letter-spacing:-0.17px;-webkit-text-stroke:0.45px #a8a8a8;">Market</span>
<svg class="ab" style="left:1572px;top:156px" width="15" height="15" fill="none" stroke="#9a9a9a" stroke-width="1.100"><circle cx="7.300" cy="7" r="5.500"/><path d="M7.300 6.200v3.600M7.300 4.100v1" /></svg>
<span class="t" id="t160" style="left:1297.4px;top:191.0px;font-size:12px;line-height:12px;color:#c2c2c2;letter-spacing:-0.19px;-webkit-text-stroke:0.3px #c2c2c2;">Price</span>
<div class="ab" style="left:1297px;top:211px;width:290px;height:37px;background:#1b1b1b;border-radius:7px"></div>
<span class="t" id="t161" style="left:1313.0px;top:223.0px;font-size:13px;line-height:13px;color:#fff;letter-spacing:0.03px;-webkit-text-stroke:0.55px #fff;">3626.86</span>
<svg class="ab" style="left:1500px;top:216px" width="14" height="28" stroke="#e8e8e8" stroke-width="1.300" fill="none"><path d="M3.200 5.800h7.200M6.800 2.200v7.200M3.200 22.200h7.200"/></svg>
<div class="ln" style="left:1527.3px;top:222.5px;width:1px;height:14.199999999999989px;background:#3a3a3a"></div>
<span class="t" id="t162" style="left:1543.6px;top:225.0px;font-size:11.5px;line-height:11.5px;color:#1fa2b6;letter-spacing:0.05px;-webkit-text-stroke:0.3px #1fa2b6;">Price</span>
<span class="t" id="t163" style="left:1297.4px;top:261.0px;font-size:12px;line-height:12px;color:#c2c2c2;letter-spacing:0.13px;-webkit-text-stroke:0.3px #c2c2c2;">Amount</span>
<div class="ab" style="left:1297px;top:280px;width:290px;height:38px;background:#1b1b1b;border-radius:7px"></div>
<span class="t" id="t164" style="left:1313.0px;top:293.0px;font-size:13px;line-height:13px;color:#6a6a6a;letter-spacing:0.62px;-webkit-text-stroke:0.25px #6a6a6a;">at least 0.01</span>
<span class="t" id="t165" style="left:1531.6px;top:294.0px;font-size:11px;line-height:11px;color:#fff;letter-spacing:-0.10px;-webkit-text-stroke:0.55px #fff;">ETH</span>
<svg class="ab" style="left:1557.500px;top:295px" width="12" height="9" fill="none" stroke="#bbb" stroke-width="1.200"><path d="M1.600 2.300l4.200 3.900 4.200-3.900"/></svg>
<div class="ab" style="left:1306px;top:335px;width:272px;height:4px;background:#242424;border-radius:2px"></div>
<div class="ab" style="left:1370.5px;top:333.500px;width:7px;height:7px;box-sizing:border-box;border:1.400px solid #3c3c44;border-radius:50%;background:#131313"></div>
<div class="ab" style="left:1438.1px;top:333.500px;width:7px;height:7px;box-sizing:border-box;border:1.400px solid #3c3c44;border-radius:50%;background:#131313"></div>
<div class="ab" style="left:1505.9px;top:333.500px;width:7px;height:7px;box-sizing:border-box;border:1.400px solid #3c3c44;border-radius:50%;background:#131313"></div>
<div class="ab" style="left:1573.9px;top:333.500px;width:7px;height:7px;box-sizing:border-box;border:1.400px solid #3c3c44;border-radius:50%;background:#131313"></div>
<div class="ab" style="left:1297.800px;top:328.500px;width:17px;height:17px;box-sizing:border-box;border:3.200px solid #22a6bb;border-radius:50%;background:#fff"></div>
<div class="ab" style="left:1298px;top:365.0px;width:12.400px;height:12.400px;box-sizing:border-box;border:1.200px solid #444;border-radius:50%"></div>
<div class="ab" style="left:1298px;top:402.3px;width:12.400px;height:12.400px;box-sizing:border-box;border:1.200px solid #444;border-radius:50%"></div>
<span class="t" id="t166" style="left:1319.8px;top:366.0px;font-size:11.5px;line-height:11.5px;color:#dcdcdc;letter-spacing:0.03px;-webkit-text-stroke:0.3px #dcdcdc;">TP/SL</span>
<div class="dash" style="left:1319.800px;top:377.500px;width:32px"></div>
<span class="t" id="t167" style="left:1319.8px;top:404.0px;font-size:11.5px;line-height:11.5px;color:#dcdcdc;letter-spacing:0.23px;-webkit-text-stroke:0.3px #dcdcdc;">Reduce Only</span>
<div class="dash" style="left:1319.800px;top:415px;width:69px"></div>
<span class="t" id="t168" style="left:1525.4px;top:411.0px;font-size:11.5px;line-height:11.5px;color:#a0a0a0;letter-spacing:0.28px;-webkit-text-stroke:0.2px #a0a0a0;">TIF</span>
<div class="dash" style="left:1525.400px;top:422.500px;width:18px"></div>
<span class="t" id="t169" style="left:1547.8px;top:411.0px;font-size:10.5px;line-height:10.5px;color:#fff;letter-spacing:-0.24px;-webkit-text-stroke:0.5px #fff;">GTC</span>
<svg class="ab" style="left:1574.500px;top:413px" width="8" height="7"><path d="M1.200 1.300h5.600L4 5.500z" fill="#bbb"/></svg>
<div class="ab" style="left:1297px;top:453.500px;width:141.500px;height:37.700px;border:1.500px solid #1fa2b6;border-radius:14px;box-sizing:border-box"></div>
<span class="t" id="t170" style="left:1346.3px;top:466.0px;font-size:14px;line-height:14px;color:#1fa2b6;letter-spacing:0.71px;-webkit-text-stroke:0.55px #1fa2b6;">Log In</span>
<div class="ab" style="left:1445.200px;top:453.500px;width:141.600px;height:37.700px;background:#1e9fb3;border-radius:14px"></div>
<span class="t" id="t171" style="left:1478.3px;top:466.0px;font-size:14px;line-height:14px;color:#fff;letter-spacing:0.35px;-webkit-text-stroke:0.55px #fff;">Get Started</span>
<span class="t" id="t172" style="left:1297.4px;top:529.0px;font-size:13px;line-height:13px;color:#fff;letter-spacing:0.32px;-webkit-text-stroke:0.55px #fff;">Assets</span>
<svg class="ab" style="left:1527px;top:527px" width="15" height="15" fill="none" stroke="#1fa2b6" stroke-width="1.100"><circle cx="7.300" cy="7.600" r="5.400"/><path d="M4.600 7.600h5.400M7.300 4.900v5.400"/></svg>
<span class="t" id="t173" style="left:1545.7px;top:530.0px;font-size:11.5px;line-height:11.5px;color:#1fa2b6;letter-spacing:0.30px;-webkit-text-stroke:0.3px #1fa2b6;">Deposit</span>
<span class="t" id="t174" style="left:1297.4px;top:600.0px;font-size:11.5px;line-height:11.5px;color:#777;letter-spacing:0.36px;-webkit-text-stroke:0.2px #777;">Margin Balance</span>
<div class="dash" style="left:1297.400px;top:611.6px;width:84.6px;border-color:#555"></div>
<span class="t" id="t175" style="left:1563.2px;top:600.0px;font-size:11.5px;line-height:11.5px;color:#fff;letter-spacing:0.30px;-webkit-text-stroke:0.4px #fff;">0.00</span>
<span class="t" id="t176" style="left:1297.4px;top:629.0px;font-size:11.5px;line-height:11.5px;color:#777;letter-spacing:0.33px;-webkit-text-stroke:0.2px #777;">Wallet Balance</span>
<div class="dash" style="left:1297.400px;top:640.5px;width:80.6px;border-color:#555"></div>
<span class="t" id="t177" style="left:1579.8px;top:629.0px;font-size:11.5px;line-height:11.5px;color:#fff;-webkit-text-stroke:0.4px #fff;">0</span>
<span class="t" id="t178" style="left:1297.4px;top:658.0px;font-size:11.5px;line-height:11.5px;color:#777;letter-spacing:0.23px;-webkit-text-stroke:0.2px #777;">UnrealizedPNL</span>
<div class="dash" style="left:1297.400px;top:669.3px;width:80.1px;border-color:#555"></div>
<span class="t" id="t179" style="left:1579.8px;top:658.0px;font-size:11.5px;line-height:11.5px;color:#fff;-webkit-text-stroke:0.4px #fff;">0</span>
<span class="t" id="t180" style="left:1297.4px;top:686.0px;font-size:11.5px;line-height:11.5px;color:#777;letter-spacing:0.26px;-webkit-text-stroke:0.2px #777;">Balance</span>
<div class="dash" style="left:1297.400px;top:697.3px;width:43.1px;border-color:#555"></div>
<span class="t" id="t181" style="left:1563.2px;top:686.0px;font-size:11.5px;line-height:11.5px;color:#fff;letter-spacing:0.30px;-webkit-text-stroke:0.4px #fff;">0.00</span>
<span class="t" id="t182" style="left:1297.4px;top:727.0px;font-size:13px;line-height:13px;color:#fff;letter-spacing:0.81px;-webkit-text-stroke:0.55px #fff;">Contract Details</span>
<span class="t" id="t183" style="left:1297.4px;top:772.0px;font-size:13px;line-height:13px;color:#fff;letter-spacing:-0.50px;-webkit-text-stroke:0.6px #fff;">ETH</span>
<span class="t" id="t184" style="left:1297.4px;top:814.0px;font-size:11.5px;line-height:11.5px;color:#6c6c6c;letter-spacing:0.12px;-webkit-text-stroke:0.2px #6c6c6c;">Expire</span>
<span class="t" id="t185" style="left:1533.8px;top:814.0px;font-size:11.5px;line-height:11.5px;color:#fff;letter-spacing:0.43px;-webkit-text-stroke:0.3px #fff;">Perpetual</span>
<span class="t" id="t186" style="left:32.5px;top:728.0px;font-size:13px;line-height:13px;color:#1fa2b6;letter-spacing:0.67px;-webkit-text-stroke:0.35px #1fa2b6;">Positions(0)</span>
<span class="t" id="t187" style="left:131.5px;top:728.0px;font-size:13px;line-height:13px;color:#a5a5a5;letter-spacing:0.80px;-webkit-text-stroke:0.3px #a5a5a5;">Orders(0)</span>
<span class="t" id="t188" style="left:216.0px;top:728.0px;font-size:13px;line-height:13px;color:#a5a5a5;letter-spacing:0.89px;-webkit-text-stroke:0.3px #a5a5a5;">Order History</span>
<span class="t" id="t189" style="left:327.0px;top:728.0px;font-size:13px;line-height:13px;color:#a5a5a5;letter-spacing:0.83px;-webkit-text-stroke:0.3px #a5a5a5;">Trade History</span>
<span class="t" id="t190" style="left:437.5px;top:728.0px;font-size:13px;line-height:13px;color:#a5a5a5;letter-spacing:0.83px;-webkit-text-stroke:0.3px #a5a5a5;">Transaction History</span>
<div class="ln" style="left:1239px;top:832px;width:1px;height:17px;background:#2a2a2a"></div>
<svg class="ab" style="left:19px;top:835px" width="14" height="14" fill="#2bb991"><rect x="1.600" y="8.800" width="2.300" height="3.200" rx=".800"/><rect x="4.900" y="6.800" width="2.200" height="5.200" rx=".700"/><rect x="7.800" y="4.500" width="2.200" height="7.500" rx=".700"/><rect x="10.600" y="2.200" width="2.400" height="9.800" rx=".700"/></svg>
<span class="t" id="t191" style="left:36.0px;top:837.0px;font-size:11.5px;line-height:11.5px;color:#2bb991;letter-spacing:0.46px;-webkit-text-stroke:0.3px #2bb991;">Network Stable</span>
<div class="ln" style="left:131px;top:835px;width:1px;height:14px;background:#2a2a2a"></div>
<svg class="ab" style="left:139px;top:835px" width="13" height="13" fill="none" stroke="#9a9a9a" stroke-width="1"><path d="M3.200 1.500v9.500M9.200 1.500v9.500"/><rect x="1.400" y="4.800" width="3.600" height="3.600" rx="1"/><rect x="7.400" y="3" width="3.600" height="3.600" rx="1"/></svg>
<span class="t" id="t192" style="left:160.0px;top:837.0px;font-size:11px;line-height:11px;color:#fff;letter-spacing:-0.24px;-webkit-text-stroke:0.45px #fff;">BTCUSDT</span>
<span class="t" id="t193" style="left:221.5px;top:837.0px;font-size:11px;line-height:11px;color:#22b68c;letter-spacing:-0.12px;-webkit-text-stroke:0.3px #22b68c;">+4.73%</span>
<span class="t" id="t194" style="left:264.0px;top:837.0px;font-size:11px;line-height:11px;color:#9a9a9a;letter-spacing:0.09px;-webkit-text-stroke:0.2px #9a9a9a;">106552.5</span>
<div class="ln" style="left:316px;top:836.5px;width:1px;height:10.5px;background:#2e2e2e"></div>
<span class="t" id="t195" style="left:322.5px;top:837.0px;font-size:11px;line-height:11px;color:#fff;letter-spacing:-0.16px;-webkit-text-stroke:0.45px #fff;">ETHUSDT</span>
<span class="t" id="t196" style="left:384.0px;top:837.0px;font-size:11px;line-height:11px;color:#22b68c;letter-spacing:-0.03px;-webkit-text-stroke:0.3px #22b68c;">+6.54%</span>
<span class="t" id="t197" style="left:427.5px;top:837.0px;font-size:11px;line-height:11px;color:#9a9a9a;letter-spacing:-0.04px;-webkit-text-stroke:0.2px #9a9a9a;">3629.75</span>
<div class="ln" style="left:472.5px;top:836.5px;width:1px;height:10.5px;background:#2e2e2e"></div>
<span class="t" id="t198" style="left:479.0px;top:837.0px;font-size:11px;line-height:11px;color:#fff;letter-spacing:-0.16px;-webkit-text-stroke:0.45px #fff;">TRXUSDT</span>
<span class="t" id="t199" style="left:541.0px;top:837.0px;font-size:11px;line-height:11px;color:#22b68c;letter-spacing:-0.42px;-webkit-text-stroke:0.3px #22b68c;">+1.91%</span>
<span class="t" id="t200" style="left:582.0px;top:837.0px;font-size:11px;line-height:11px;color:#9a9a9a;letter-spacing:0.21px;-webkit-text-stroke:0.2px #9a9a9a;">0.29434</span>
<div class="ln" style="left:628.5px;top:836.5px;width:1px;height:10.5px;background:#2e2e2e"></div>
<span class="t" id="t201" style="left:635.0px;top:837.0px;font-size:11px;line-height:11px;color:#fff;letter-spacing:-0.09px;-webkit-text-stroke:0.45px #fff;">XRPUSDT</span>
<span class="t" id="t202" style="left:698.0px;top:837.0px;font-size:11px;line-height:11px;color:#22b68c;letter-spacing:-0.07px;-webkit-text-stroke:0.3px #22b68c;">+11.48%</span>
<span class="t" id="t203" style="left:746.5px;top:837.0px;font-size:11px;line-height:11px;color:#9a9a9a;letter-spacing:-0.03px;-webkit-text-stroke:0.2px #9a9a9a;">2.5349</span>
<div class="ln" style="left:786.5px;top:836.5px;width:1px;height:10.5px;background:#2e2e2e"></div>
<span class="t" id="t204" style="left:792.5px;top:837.0px;font-size:11px;line-height:11px;color:#fff;letter-spacing:-0.24px;-webkit-text-stroke:0.45px #fff;">LTCUSDT</span>
<span class="t" id="t205" style="left:852.0px;top:837.0px;font-size:11px;line-height:11px;color:#22b68c;letter-spacing:-0.03px;-webkit-text-stroke:0.3px #22b68c;">+8.20%</span>
<span class="t" id="t206" style="left:895.0px;top:837.0px;font-size:11px;line-height:11px;color:#9a9a9a;letter-spacing:-0.03px;-webkit-text-stroke:0.2px #9a9a9a;">108.23</span>
<div class="ln" style="left:934px;top:836.5px;width:1px;height:10.5px;background:#2e2e2e"></div>
<span class="t" id="t207" style="left:940.0px;top:837.0px;font-size:11px;line-height:11px;color:#fff;letter-spacing:0.02px;-webkit-text-stroke:0.45px #fff;">DOGEUSDT</span>
<span class="t" id="t208" style="left:1013.5px;top:837.0px;font-size:11px;line-height:11px;color:#22b68c;letter-spacing:-0.12px;-webkit-text-stroke:0.3px #22b68c;">+5.70%</span>
<span class="t" id="t209" style="left:1056.0px;top:837.0px;font-size:11px;line-height:11px;color:#9a9a9a;letter-spacing:0.12px;-webkit-text-stroke:0.2px #9a9a9a;">0.18349</span>
<div class="ln" style="left:1102px;top:836.5px;width:1px;height:10.5px;background:#2e2e2e"></div>
<span class="t" id="t210" style="left:1108.5px;top:837.0px;font-size:11px;line-height:11px;color:#fff;letter-spacing:-0.08px;-webkit-text-stroke:0.45px #fff;">SOLUSDT</span>
<span class="t" id="t211" style="left:1171.0px;top:837.0px;font-size:11px;line-height:11px;color:#1ab98b;letter-spacing:-0.21px;-webkit-text-stroke:0.3px #1ab98b;">+6.97</span>
<div class="ab" style="left:1174px;top:832px;width:26px;height:17px;background:linear-gradient(90deg,rgba(20,20,20,.2),rgba(44,44,44,.85))"></div>
<span class="t" id="t212" style="left:1253.5px;top:837.0px;font-size:11.5px;line-height:11.5px;color:#bdbdbd;letter-spacing:0.38px;-webkit-text-stroke:0.25px #bdbdbd;">Social Media</span>
<div class="ln" style="left:1333.5px;top:839px;width:1px;height:5px;background:#333"></div>
<span class="t" id="t213" style="left:1347.5px;top:837.0px;font-size:11.5px;line-height:11.5px;color:#bdbdbd;letter-spacing:0.41px;-webkit-text-stroke:0.25px #bdbdbd;">Announcements</span>
<div class="ln" style="left:1445px;top:839px;width:1px;height:5px;background:#333"></div>
<span class="t" id="t214" style="left:1459.0px;top:837.0px;font-size:11.5px;line-height:11.5px;color:#bdbdbd;letter-spacing:0.33px;-webkit-text-stroke:0.25px #bdbdbd;">Online Customer Service</span></div></body></html>
